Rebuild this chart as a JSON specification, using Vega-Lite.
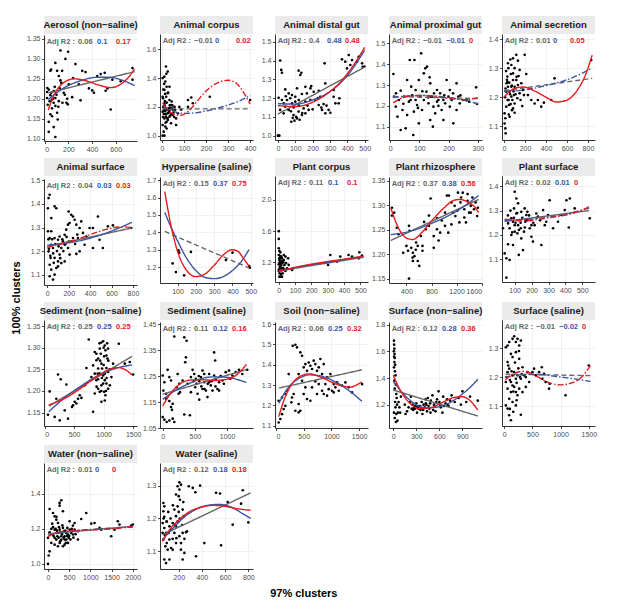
{
  "$schema": "https://vega.github.io/schema/vega-lite/v6.json",
  "padding": {"left": 11, "top": 16, "right": 4, "bottom": 4},
  "title": {"text": "97% clusters", "orient": "bottom", "anchor": "middle", "offset": 8},
  "datasets": {
    "AE": [{"x":34,"y":1.223},{"x":20,"y":1.217},{"x":133,"y":1.321},{"x":198,"y":1.318},{"x":175,"y":1.30},{"x":90,"y":1.29},{"x":54,"y":1.273},{"x":48,"y":1.27},{"x":105,"y":1.27},{"x":147,"y":1.27},{"x":119,"y":1.257},{"x":133,"y":1.246},{"x":260,"y":1.287},{"x":317,"y":1.27},{"x":345,"y":1.267},{"x":444,"y":1.257},{"x":473,"y":1.262},{"x":507,"y":1.265},{"x":572,"y":1.248},{"x":642,"y":1.244},{"x":742,"y":1.248},{"x":742,"y":1.277},{"x":374,"y":1.226},{"x":402,"y":1.221},{"x":416,"y":1.215},{"x":530,"y":1.226},{"x":515,"y":1.22},{"x":558,"y":1.173},{"x":303,"y":1.196},{"x":232,"y":1.204},{"x":190,"y":1.20},{"x":195,"y":1.186},{"x":184,"y":1.19},{"x":76,"y":1.19},{"x":90,"y":1.182},{"x":62,"y":1.176},{"x":105,"y":1.165},{"x":48,"y":1.161},{"x":110,"y":1.148},{"x":34,"y":1.142},{"x":76,"y":1.129},{"x":34,"y":1.117},{"x":90,"y":1.104},{"x":62,"y":1.156},{"x":42,"y":1.194},{"x":20,"y":1.202},{"x":48,"y":1.209},{"x":76,"y":1.219},{"x":127,"y":1.226},{"x":161,"y":1.215},{"x":204,"y":1.236},{"x":240,"y":1.252},{"x":288,"y":1.236},{"x":22,"y":1.227},{"x":62,"y":1.198},{"x":90,"y":1.202},{"x":119,"y":1.194},{"x":25,"y":1.185},{"x":55,"y":1.215},{"x":70,"y":1.2},{"x":85,"y":1.23},{"x":100,"y":1.21},{"x":115,"y":1.18},{"x":140,"y":1.24},{"x":150,"y":1.19},{"x":170,"y":1.21}],
    "AE_fit": [{"m":"linear","lt":"solid","x":30,"y":1.215},{"m":"linear","lt":"solid","x":760,"y":1.268},
      {"m":"quadratic","lt":"solid","x":30,"y":1.198},{"m":"quadratic","lt":"solid","x":150,"y":1.225},{"m":"quadratic","lt":"solid","x":300,"y":1.245},{"m":"quadratic","lt":"solid","x":450,"y":1.254},{"m":"quadratic","lt":"solid","x":550,"y":1.254},{"m":"quadratic","lt":"solid","x":650,"y":1.247},{"m":"quadratic","lt":"solid","x":760,"y":1.233},
      {"m":"cubic","lt":"solid","x":30,"y":1.172},{"m":"cubic","lt":"solid","x":80,"y":1.21},{"m":"cubic","lt":"solid","x":150,"y":1.238},{"m":"cubic","lt":"solid","x":250,"y":1.25},{"m":"cubic","lt":"solid","x":350,"y":1.245},{"m":"cubic","lt":"solid","x":450,"y":1.235},{"m":"cubic","lt":"solid","x":560,"y":1.228},{"m":"cubic","lt":"solid","x":650,"y":1.238},{"m":"cubic","lt":"solid","x":720,"y":1.258},{"m":"cubic","lt":"solid","x":760,"y":1.275}],
    "AE_r2": [{"m":"linear","r":"0.06"},{"m":"quadratic","r":"0.1"},{"m":"cubic","r":"0.17"}],

    "AC": [{"x":18,"y":1.48},{"x":26,"y":1.445},{"x":11,"y":1.41},{"x":3,"y":1.40},{"x":15,"y":1.376},{"x":21,"y":1.34},{"x":11,"y":1.318},{"x":26,"y":1.295},{"x":3,"y":1.27},{"x":34,"y":1.248},{"x":11,"y":1.225},{"x":41,"y":1.213},{"x":18,"y":1.19},{"x":49,"y":1.18},{"x":3,"y":1.167},{"x":26,"y":1.155},{"x":34,"y":1.132},{"x":11,"y":1.12},{"x":21,"y":1.097},{"x":41,"y":1.086},{"x":15,"y":1.063},{"x":8,"y":1.028},{"x":3,"y":1.0},{"x":11,"y":1.0},{"x":64,"y":1.12},{"x":72,"y":1.155},{"x":79,"y":1.2},{"x":118,"y":1.248},{"x":133,"y":1.265},{"x":118,"y":1.2},{"x":140,"y":1.225},{"x":87,"y":1.18},{"x":217,"y":1.27},{"x":400,"y":1.248},{"x":34,"y":1.34},{"x":18,"y":1.132},{"x":49,"y":1.144},{"x":31,"y":1.19},{"x":44,"y":1.237},{"x":57,"y":1.2},{"x":6,"y":1.2},{"x":64,"y":1.074},{"x":3,"y":1.074},{"x":21,"y":1.05},{"x":8,"y":1.15},{"x":14,"y":1.17},{"x":25,"y":1.12},{"x":30,"y":1.16},{"x":12,"y":1.21},{"x":22,"y":1.23},{"x":5,"y":1.26},{"x":38,"y":1.14},{"x":45,"y":1.19},{"x":28,"y":1.30},{"x":16,"y":1.09},{"x":35,"y":1.21},{"x":5,"y":1.13},{"x":9,"y":1.18},{"x":13,"y":1.24},{"x":17,"y":1.15},{"x":19,"y":1.27},{"x":24,"y":1.18},{"x":27,"y":1.11},{"x":33,"y":1.17},{"x":37,"y":1.19},{"x":42,"y":1.15},{"x":47,"y":1.21},{"x":52,"y":1.16},{"x":55,"y":1.13},{"x":60,"y":1.18},{"x":6,"y":1.32},{"x":10,"y":1.36},{"x":20,"y":1.43},{"x":14,"y":1.29}],
    "AC_fit": [{"m":"linear","lt":"dash","x":3,"y":1.186},{"m":"linear","lt":"dash","x":400,"y":1.186},
      {"m":"quadratic","lt":"dashdot","x":3,"y":1.21},{"m":"quadratic","lt":"dashdot","x":50,"y":1.17},{"m":"quadratic","lt":"dashdot","x":100,"y":1.155},{"m":"quadratic","lt":"dashdot","x":150,"y":1.158},{"m":"quadratic","lt":"dashdot","x":200,"y":1.172},{"m":"quadratic","lt":"dashdot","x":250,"y":1.19},{"m":"quadratic","lt":"dashdot","x":300,"y":1.212},{"m":"quadratic","lt":"dashdot","x":350,"y":1.24},{"m":"quadratic","lt":"dashdot","x":400,"y":1.28},
      {"m":"cubic","lt":"dashdot","x":3,"y":1.23},{"m":"cubic","lt":"dashdot","x":40,"y":1.16},{"m":"cubic","lt":"dashdot","x":80,"y":1.14},{"m":"cubic","lt":"dashdot","x":120,"y":1.17},{"m":"cubic","lt":"dashdot","x":160,"y":1.24},{"m":"cubic","lt":"dashdot","x":200,"y":1.31},{"m":"cubic","lt":"dashdot","x":250,"y":1.365},{"m":"cubic","lt":"dashdot","x":300,"y":1.385},{"m":"cubic","lt":"dashdot","x":340,"y":1.36},{"m":"cubic","lt":"dashdot","x":370,"y":1.3},{"m":"cubic","lt":"dashdot","x":400,"y":1.22}],
    "AC_r2": [{"m":"linear","r":"−0.01"},{"m":"quadratic","r":"0"},{"m":"cubic","r":"0.02"}],

    "AD": [{"x":0,"y":1.0},{"x":8,"y":1.0},{"x":4,"y":1.0},{"x":13,"y":1.40},{"x":19,"y":1.35},{"x":23,"y":1.335},{"x":119,"y":1.346},{"x":135,"y":1.335},{"x":129,"y":1.323},{"x":4,"y":1.202},{"x":23,"y":1.19},{"x":42,"y":1.246},{"x":62,"y":1.225},{"x":71,"y":1.199},{"x":81,"y":1.172},{"x":42,"y":1.154},{"x":62,"y":1.137},{"x":90,"y":1.11},{"x":110,"y":1.092},{"x":77,"y":1.074},{"x":119,"y":1.128},{"x":148,"y":1.145},{"x":158,"y":1.181},{"x":167,"y":1.225},{"x":187,"y":1.252},{"x":192,"y":1.264},{"x":206,"y":1.234},{"x":215,"y":1.19},{"x":235,"y":1.163},{"x":254,"y":1.137},{"x":273,"y":1.119},{"x":292,"y":1.137},{"x":302,"y":1.122},{"x":244,"y":1.207},{"x":273,"y":1.278},{"x":263,"y":1.168},{"x":321,"y":1.207},{"x":331,"y":1.172},{"x":350,"y":1.172},{"x":354,"y":1.199},{"x":321,"y":1.243},{"x":269,"y":1.385},{"x":369,"y":1.406},{"x":388,"y":1.394},{"x":408,"y":1.429},{"x":427,"y":1.402},{"x":456,"y":1.394},{"x":465,"y":1.42},{"x":485,"y":1.385},{"x":488,"y":1.367},{"x":398,"y":1.358},{"x":417,"y":1.376},{"x":100,"y":1.181},{"x":33,"y":1.172},{"x":138,"y":1.11},{"x":158,"y":1.119},{"x":177,"y":1.137},{"x":52,"y":1.19},{"x":81,"y":1.216},{"x":110,"y":1.252},{"x":100,"y":1.207},{"x":13,"y":1.137},{"x":33,"y":1.119},{"x":235,"y":1.239},{"x":158,"y":1.26},{"x":138,"y":1.222},{"x":187,"y":1.19},{"x":95,"y":1.08},{"x":125,"y":1.085},{"x":105,"y":1.1},{"x":85,"y":1.095},{"x":498,"y":1.368},{"x":60,"y":1.14},{"x":90,"y":1.15},{"x":120,"y":1.16},{"x":140,"y":1.12},{"x":170,"y":1.16},{"x":200,"y":1.14},{"x":230,"y":1.2},{"x":250,"y":1.15},{"x":280,"y":1.16},{"x":75,"y":1.13},{"x":120,"y":1.19},{"x":45,"y":1.21}],
    "AD_fit": [{"m":"linear","lt":"solid","x":0,"y":1.115},{"m":"linear","lt":"solid","x":500,"y":1.365},
      {"m":"quadratic","lt":"solid","x":0,"y":1.17},{"m":"quadratic","lt":"solid","x":100,"y":1.168},{"m":"quadratic","lt":"solid","x":200,"y":1.19},{"m":"quadratic","lt":"solid","x":300,"y":1.235},{"m":"quadratic","lt":"solid","x":400,"y":1.32},{"m":"quadratic","lt":"solid","x":500,"y":1.455},
      {"m":"cubic","lt":"solid","x":0,"y":1.16},{"m":"cubic","lt":"solid","x":100,"y":1.155},{"m":"cubic","lt":"solid","x":200,"y":1.178},{"m":"cubic","lt":"solid","x":300,"y":1.235},{"m":"cubic","lt":"solid","x":350,"y":1.275},{"m":"cubic","lt":"solid","x":400,"y":1.33},{"m":"cubic","lt":"solid","x":450,"y":1.395},{"m":"cubic","lt":"solid","x":500,"y":1.47}],
    "AD_r2": [{"m":"linear","r":"0.4"},{"m":"quadratic","r":"0.48"},{"m":"cubic","r":"0.48"}],

    "AP": [{"x":11,"y":1.353},{"x":19,"y":1.196},{"x":25,"y":1.148},{"x":30,"y":1.228},{"x":36,"y":1.273},{"x":42,"y":1.18},{"x":47,"y":1.244},{"x":53,"y":1.092},{"x":58,"y":1.156},{"x":64,"y":1.22},{"x":67,"y":1.42},{"x":72,"y":1.292},{"x":79,"y":1.06},{"x":81,"y":1.172},{"x":83,"y":1.42},{"x":87,"y":1.276},{"x":92,"y":1.204},{"x":98,"y":1.324},{"x":103,"y":1.244},{"x":106,"y":1.452},{"x":109,"y":1.18},{"x":115,"y":1.356},{"x":120,"y":1.38},{"x":124,"y":1.268},{"x":126,"y":1.388},{"x":131,"y":1.212},{"x":135,"y":1.337},{"x":137,"y":1.308},{"x":143,"y":1.244},{"x":146,"y":1.1},{"x":148,"y":1.196},{"x":154,"y":1.164},{"x":160,"y":1.276},{"x":165,"y":1.228},{"x":171,"y":1.26},{"x":176,"y":1.18},{"x":182,"y":1.228},{"x":188,"y":1.212},{"x":193,"y":1.324},{"x":199,"y":1.244},{"x":204,"y":1.196},{"x":210,"y":1.228},{"x":216,"y":1.116},{"x":227,"y":1.308},{"x":233,"y":1.244},{"x":238,"y":1.212},{"x":249,"y":1.228},{"x":294,"y":1.289},{"x":297,"y":1.209},{"x":58,"y":1.324},{"x":98,"y":1.116},{"x":36,"y":1.084},{"x":182,"y":1.132},{"x":137,"y":1.132},{"x":160,"y":1.22},{"x":115,"y":1.228},{"x":87,"y":1.228},{"x":204,"y":1.276},{"x":137,"y":1.244},{"x":70,"y":1.228},{"x":13,"y":1.244},{"x":227,"y":1.18},{"x":261,"y":1.228},{"x":20,"y":1.26},{"x":45,"y":1.21},{"x":75,"y":1.25},{"x":95,"y":1.19},{"x":110,"y":1.27},{"x":130,"y":1.24},{"x":150,"y":1.26},{"x":165,"y":1.2},{"x":185,"y":1.25},{"x":215,"y":1.26},{"x":240,"y":1.25},{"x":270,"y":1.22}],
    "AP_fit": [{"m":"linear","lt":"dash","x":10,"y":1.245},{"m":"linear","lt":"dash","x":300,"y":1.235},
      {"m":"quadratic","lt":"dashdot","x":10,"y":1.24},{"m":"quadratic","lt":"dashdot","x":100,"y":1.25},{"m":"quadratic","lt":"dashdot","x":200,"y":1.24},{"m":"quadratic","lt":"dashdot","x":300,"y":1.21},
      {"m":"cubic","lt":"dashdot","x":10,"y":1.215},{"m":"cubic","lt":"dashdot","x":60,"y":1.245},{"m":"cubic","lt":"dashdot","x":120,"y":1.25},{"m":"cubic","lt":"dashdot","x":200,"y":1.235},{"m":"cubic","lt":"dashdot","x":260,"y":1.23},{"m":"cubic","lt":"dashdot","x":300,"y":1.24}],
    "AP_r2": [{"m":"linear","r":"−0.01"},{"m":"quadratic","r":"−0.01"},{"m":"cubic","r":"0"}],

    "AS": [{"x":22,"y":1.167},{"x":6,"y":1.144},{"x":13,"y":1.127},{"x":6,"y":1.109},{"x":13,"y":1.092},{"x":16,"y":1.075},{"x":32,"y":1.253},{"x":38,"y":1.236},{"x":54,"y":1.219},{"x":70,"y":1.202},{"x":44,"y":1.19},{"x":63,"y":1.176},{"x":86,"y":1.161},{"x":101,"y":1.146},{"x":54,"y":1.132},{"x":86,"y":1.334},{"x":117,"y":1.346},{"x":133,"y":1.326},{"x":70,"y":1.311},{"x":101,"y":1.3},{"x":38,"y":1.317},{"x":149,"y":1.294},{"x":86,"y":1.282},{"x":139,"y":1.273},{"x":117,"y":1.259},{"x":165,"y":1.248},{"x":101,"y":1.236},{"x":197,"y":1.346},{"x":212,"y":1.28},{"x":181,"y":1.225},{"x":149,"y":1.213},{"x":228,"y":1.207},{"x":260,"y":1.19},{"x":292,"y":1.178},{"x":323,"y":1.19},{"x":355,"y":1.167},{"x":380,"y":1.181},{"x":482,"y":1.265},{"x":450,"y":1.19},{"x":831,"y":1.328},{"x":70,"y":1.236},{"x":95,"y":1.207},{"x":127,"y":1.196},{"x":32,"y":1.271},{"x":101,"y":1.178},{"x":76,"y":1.155},{"x":48,"y":1.173},{"x":158,"y":1.19},{"x":174,"y":1.169},{"x":190,"y":1.207},{"x":22,"y":1.219},{"x":25,"y":1.248},{"x":86,"y":1.259},{"x":133,"y":1.242},{"x":10,"y":1.20},{"x":15,"y":1.23},{"x":20,"y":1.29},{"x":28,"y":1.26},{"x":35,"y":1.19},{"x":42,"y":1.3},{"x":50,"y":1.25},{"x":58,"y":1.21},{"x":65,"y":1.28},{"x":75,"y":1.24},{"x":80,"y":1.19},{"x":90,"y":1.22},{"x":110,"y":1.21},{"x":120,"y":1.27},{"x":60,"y":1.33},{"x":45,"y":1.14}],
    "AS_fit": [{"m":"linear","lt":"dash","x":0,"y":1.222},{"m":"linear","lt":"dash","x":840,"y":1.265},
      {"m":"quadratic","lt":"dashdot","x":0,"y":1.22},{"m":"quadratic","lt":"dashdot","x":200,"y":1.225},{"m":"quadratic","lt":"dashdot","x":400,"y":1.24},{"m":"quadratic","lt":"dashdot","x":600,"y":1.26},{"m":"quadratic","lt":"dashdot","x":840,"y":1.30},
      {"m":"cubic","lt":"solid","x":0,"y":1.20},{"m":"cubic","lt":"solid","x":100,"y":1.23},{"m":"cubic","lt":"solid","x":180,"y":1.235},{"m":"cubic","lt":"solid","x":300,"y":1.22},{"m":"cubic","lt":"solid","x":400,"y":1.2},{"m":"cubic","lt":"solid","x":500,"y":1.183},{"m":"cubic","lt":"solid","x":600,"y":1.19},{"m":"cubic","lt":"solid","x":700,"y":1.225},{"m":"cubic","lt":"solid","x":780,"y":1.28},{"m":"cubic","lt":"solid","x":840,"y":1.345}],
    "AS_r2": [{"m":"linear","r":"0.01"},{"m":"quadratic","r":"0"},{"m":"cubic","r":"0.05"}],

    "AF": [{"x":22,"y":1.439},{"x":12,"y":1.425},{"x":6,"y":1.382},{"x":37,"y":1.34},{"x":68,"y":1.39},{"x":84,"y":1.382},{"x":6,"y":1.284},{"x":22,"y":1.255},{"x":37,"y":1.227},{"x":12,"y":1.199},{"x":31,"y":1.171},{"x":22,"y":1.142},{"x":37,"y":1.121},{"x":22,"y":1.093},{"x":53,"y":1.079},{"x":68,"y":1.1},{"x":84,"y":1.128},{"x":100,"y":1.156},{"x":115,"y":1.185},{"x":131,"y":1.213},{"x":146,"y":1.241},{"x":162,"y":1.269},{"x":177,"y":1.291},{"x":193,"y":1.312},{"x":199,"y":1.368},{"x":224,"y":1.354},{"x":240,"y":1.347},{"x":208,"y":1.319},{"x":255,"y":1.333},{"x":271,"y":1.312},{"x":302,"y":1.298},{"x":317,"y":1.326},{"x":333,"y":1.277},{"x":364,"y":1.262},{"x":395,"y":1.298},{"x":426,"y":1.298},{"x":473,"y":1.347},{"x":488,"y":1.248},{"x":519,"y":1.213},{"x":426,"y":1.213},{"x":348,"y":1.227},{"x":302,"y":1.199},{"x":271,"y":1.188},{"x":208,"y":1.185},{"x":162,"y":1.156},{"x":131,"y":1.149},{"x":100,"y":1.135},{"x":68,"y":1.171},{"x":53,"y":1.213},{"x":68,"y":1.255},{"x":115,"y":1.262},{"x":162,"y":1.227},{"x":224,"y":1.241},{"x":286,"y":1.255},{"x":193,"y":1.213},{"x":240,"y":1.255},{"x":566,"y":1.305},{"x":784,"y":1.298},{"x":613,"y":1.309},{"x":100,"y":1.248},{"x":37,"y":1.284},{"x":10,"y":1.25},{"x":15,"y":1.21},{"x":28,"y":1.18},{"x":45,"y":1.25},{"x":55,"y":1.19},{"x":60,"y":1.15},{"x":75,"y":1.23},{"x":90,"y":1.2},{"x":105,"y":1.22},{"x":120,"y":1.17},{"x":140,"y":1.25},{"x":150,"y":1.2},{"x":170,"y":1.23},{"x":180,"y":1.26},{"x":200,"y":1.24},{"x":260,"y":1.23},{"x":280,"y":1.27}],
    "AF_fit": [{"m":"linear","lt":"solid","x":0,"y":1.22},{"m":"linear","lt":"solid","x":790,"y":1.298},
      {"m":"quadratic","lt":"solid","x":0,"y":1.225},{"m":"quadratic","lt":"solid","x":200,"y":1.235},{"m":"quadratic","lt":"solid","x":400,"y":1.255},{"m":"quadratic","lt":"solid","x":600,"y":1.285},{"m":"quadratic","lt":"solid","x":790,"y":1.322},
      {"m":"cubic","lt":"dashdot","x":0,"y":1.215},{"m":"cubic","lt":"dashdot","x":100,"y":1.228},{"m":"cubic","lt":"dashdot","x":250,"y":1.245},{"m":"cubic","lt":"dashdot","x":400,"y":1.27},{"m":"cubic","lt":"dashdot","x":550,"y":1.292},{"m":"cubic","lt":"dashdot","x":700,"y":1.303},{"m":"cubic","lt":"dashdot","x":790,"y":1.30}],
    "AF_r2": [{"m":"linear","r":"0.04"},{"m":"quadratic","r":"0.03"},{"m":"cubic","r":"0.03"}],

    "HS": [{"x":73,"y":1.221},{"x":91,"y":1.171},{"x":105,"y":1.296},{"x":109,"y":1.283},{"x":136,"y":1.152},{"x":173,"y":1.287},{"x":364,"y":1.24},{"x":400,"y":1.283},{"x":491,"y":1.206},{"x":495,"y":1.196}],
    "HS_fit": [{"m":"linear","lt":"dash","x":30,"y":1.405},{"m":"linear","lt":"dash","x":490,"y":1.195},
      {"m":"quadratic","lt":"solid","x":30,"y":1.515},{"m":"quadratic","lt":"solid","x":60,"y":1.44},{"m":"quadratic","lt":"solid","x":100,"y":1.35},{"m":"quadratic","lt":"solid","x":150,"y":1.25},{"m":"quadratic","lt":"solid","x":200,"y":1.18},{"m":"quadratic","lt":"solid","x":250,"y":1.14},{"m":"quadratic","lt":"solid","x":300,"y":1.133},{"m":"quadratic","lt":"solid","x":350,"y":1.145},{"m":"quadratic","lt":"solid","x":400,"y":1.18},{"m":"quadratic","lt":"solid","x":450,"y":1.235},{"m":"quadratic","lt":"solid","x":490,"y":1.30},
      {"m":"cubic","lt":"solid","x":30,"y":1.635},{"m":"cubic","lt":"solid","x":60,"y":1.46},{"m":"cubic","lt":"solid","x":100,"y":1.29},{"m":"cubic","lt":"solid","x":150,"y":1.18},{"m":"cubic","lt":"solid","x":200,"y":1.145},{"m":"cubic","lt":"solid","x":250,"y":1.16},{"m":"cubic","lt":"solid","x":300,"y":1.21},{"m":"cubic","lt":"solid","x":350,"y":1.27},{"m":"cubic","lt":"solid","x":400,"y":1.30},{"m":"cubic","lt":"solid","x":430,"y":1.29},{"m":"cubic","lt":"solid","x":460,"y":1.25},{"m":"cubic","lt":"solid","x":490,"y":1.205}],
    "HS_r2": [{"m":"linear","r":"0.15"},{"m":"quadratic","r":"0.37"},{"m":"cubic","r":"0.75"}],

    "PC": [{"x":0,"y":1.60},{"x":0,"y":1.50},{"x":4,"y":1.346},{"x":10,"y":1.328},{"x":0,"y":1.294},{"x":16,"y":1.273},{"x":31,"y":1.294},{"x":41,"y":1.273},{"x":4,"y":1.23},{"x":10,"y":1.209},{"x":20,"y":1.187},{"x":0,"y":1.174},{"x":8,"y":1.144},{"x":16,"y":1.123},{"x":0,"y":1.089},{"x":4,"y":1.016},{"x":12,"y":1.016},{"x":20,"y":1.016},{"x":24,"y":1.059},{"x":41,"y":1.089},{"x":51,"y":1.123},{"x":61,"y":1.166},{"x":57,"y":1.251},{"x":82,"y":1.102},{"x":86,"y":1.123},{"x":302,"y":1.166},{"x":316,"y":1.294},{"x":357,"y":1.209},{"x":377,"y":1.273},{"x":428,"y":1.294},{"x":449,"y":1.273},{"x":490,"y":1.251},{"x":494,"y":1.328},{"x":510,"y":1.286},{"x":10,"y":1.187},{"x":31,"y":1.23},{"x":35,"y":1.166},{"x":20,"y":1.251},{"x":0,"y":1.38},{"x":8,"y":1.251},{"x":2,"y":1.11},{"x":6,"y":1.2},{"x":3,"y":1.25},{"x":14,"y":1.16},{"x":18,"y":1.1},{"x":26,"y":1.13},{"x":28,"y":1.2},{"x":5,"y":1.06},{"x":9,"y":1.28},{"x":22,"y":1.22},{"x":33,"y":1.11},{"x":45,"y":1.19},{"x":14,"y":1.05},{"x":7,"y":1.14}],
    "PC_fit": [{"m":"linear","lt":"solid","x":0,"y":1.09},{"m":"linear","lt":"solid","x":520,"y":1.265},
      {"m":"quadratic","lt":"solid","x":0,"y":1.08},{"m":"quadratic","lt":"solid","x":100,"y":1.13},{"m":"quadratic","lt":"solid","x":200,"y":1.17},{"m":"quadratic","lt":"solid","x":300,"y":1.20},{"m":"quadratic","lt":"solid","x":400,"y":1.235},{"m":"quadratic","lt":"solid","x":520,"y":1.275},
      {"m":"cubic","lt":"solid","x":0,"y":1.085},{"m":"cubic","lt":"solid","x":20,"y":1.095},{"m":"cubic","lt":"solid","x":60,"y":1.115},{"m":"cubic","lt":"solid","x":100,"y":1.135},{"m":"cubic","lt":"solid","x":200,"y":1.175},{"m":"cubic","lt":"solid","x":300,"y":1.21},{"m":"cubic","lt":"solid","x":400,"y":1.24},{"m":"cubic","lt":"solid","x":520,"y":1.28}],
    "PC_r2": [{"m":"linear","r":"0.11"},{"m":"quadratic","r":"0.1"},{"m":"cubic","r":"0.1"}],

    "PR": [{"x":169,"y":1.295},{"x":205,"y":1.285},{"x":246,"y":1.254},{"x":169,"y":1.279},{"x":441,"y":1.258},{"x":451,"y":1.248},{"x":400,"y":1.217},{"x":441,"y":1.15},{"x":477,"y":1.213},{"x":503,"y":1.203},{"x":528,"y":1.196},{"x":554,"y":1.224},{"x":580,"y":1.186},{"x":605,"y":1.176},{"x":426,"y":1.207},{"x":498,"y":1.193},{"x":549,"y":1.209},{"x":656,"y":1.217},{"x":631,"y":1.237},{"x":708,"y":1.251},{"x":682,"y":1.266},{"x":759,"y":1.258},{"x":785,"y":1.314},{"x":836,"y":1.237},{"x":887,"y":1.274},{"x":913,"y":1.228},{"x":938,"y":1.244},{"x":964,"y":1.269},{"x":1015,"y":1.285},{"x":1046,"y":1.32},{"x":1077,"y":1.32},{"x":1118,"y":1.306},{"x":1144,"y":1.285},{"x":1169,"y":1.299},{"x":1180,"y":1.278},{"x":1211,"y":1.289},{"x":1221,"y":1.326},{"x":1262,"y":1.306},{"x":1272,"y":1.316},{"x":1298,"y":1.326},{"x":1323,"y":1.292},{"x":1349,"y":1.265},{"x":1375,"y":1.309},{"x":1400,"y":1.285},{"x":1426,"y":1.299},{"x":1452,"y":1.316},{"x":1477,"y":1.292},{"x":1503,"y":1.306},{"x":1528,"y":1.278},{"x":1539,"y":1.295},{"x":1375,"y":1.323},{"x":1067,"y":1.244},{"x":1015,"y":1.258},{"x":759,"y":1.279},{"x":656,"y":1.207},{"x":580,"y":1.217},{"x":503,"y":1.186},{"x":349,"y":1.203},{"x":272,"y":1.241},{"x":836,"y":1.213},{"x":887,"y":1.251},{"x":1118,"y":1.261},{"x":1323,"y":1.275},{"x":1244,"y":1.265},{"x":1426,"y":1.285}],
    "PR_fit": [{"m":"linear","lt":"solid","x":150,"y":1.228},{"m":"linear","lt":"solid","x":1550,"y":1.312},
      {"m":"quadratic","lt":"solid","x":150,"y":1.24},{"m":"quadratic","lt":"solid","x":400,"y":1.245},{"m":"quadratic","lt":"solid","x":800,"y":1.263},{"m":"quadratic","lt":"solid","x":1200,"y":1.288},{"m":"quadratic","lt":"solid","x":1550,"y":1.32},
      {"m":"cubic","lt":"solid","x":150,"y":1.295},{"m":"cubic","lt":"solid","x":250,"y":1.26},{"m":"cubic","lt":"solid","x":400,"y":1.233},{"m":"cubic","lt":"solid","x":500,"y":1.23},{"m":"cubic","lt":"solid","x":650,"y":1.245},{"m":"cubic","lt":"solid","x":800,"y":1.268},{"m":"cubic","lt":"solid","x":1000,"y":1.295},{"m":"cubic","lt":"solid","x":1150,"y":1.31},{"m":"cubic","lt":"solid","x":1250,"y":1.312},{"m":"cubic","lt":"solid","x":1400,"y":1.305},{"m":"cubic","lt":"solid","x":1500,"y":1.295},{"m":"cubic","lt":"solid","x":1550,"y":1.285}],
    "PR_r2": [{"m":"linear","r":"0.37"},{"m":"quadratic","r":"0.38"},{"m":"cubic","r":"0.56"}],

    "PS": [{"x":51,"y":1.023},{"x":41,"y":1.123},{"x":51,"y":1.103},{"x":61,"y":1.161},{"x":70,"y":1.096},{"x":80,"y":1.199},{"x":90,"y":1.158},{"x":100,"y":1.378},{"x":110,"y":1.35},{"x":120,"y":1.33},{"x":96,"y":1.309},{"x":124,"y":1.117},{"x":139,"y":1.185},{"x":149,"y":1.137},{"x":155,"y":1.213},{"x":163,"y":1.254},{"x":175,"y":1.295},{"x":189,"y":1.227},{"x":199,"y":1.192},{"x":208,"y":1.172},{"x":218,"y":1.24},{"x":238,"y":1.275},{"x":258,"y":1.158},{"x":268,"y":1.302},{"x":287,"y":1.254},{"x":307,"y":1.343},{"x":327,"y":1.227},{"x":356,"y":1.254},{"x":406,"y":1.343},{"x":426,"y":1.35},{"x":420,"y":1.23},{"x":455,"y":1.309},{"x":544,"y":1.268},{"x":80,"y":1.268},{"x":110,"y":1.288},{"x":129,"y":1.261},{"x":70,"y":1.227},{"x":100,"y":1.213},{"x":120,"y":1.24},{"x":139,"y":1.295},{"x":159,"y":1.309},{"x":179,"y":1.261},{"x":199,"y":1.24},{"x":61,"y":1.247},{"x":90,"y":1.254},{"x":116,"y":1.206},{"x":136,"y":1.227},{"x":31,"y":1.227},{"x":100,"y":1.24},{"x":169,"y":1.282},{"x":228,"y":1.288},{"x":278,"y":1.24},{"x":297,"y":1.282},{"x":376,"y":1.282},{"x":396,"y":1.302},{"x":60,"y":1.28},{"x":75,"y":1.3},{"x":85,"y":1.21},{"x":95,"y":1.27},{"x":105,"y":1.25},{"x":115,"y":1.29},{"x":125,"y":1.22},{"x":135,"y":1.25},{"x":145,"y":1.27},{"x":160,"y":1.23},{"x":170,"y":1.26},{"x":185,"y":1.28},{"x":195,"y":1.26},{"x":210,"y":1.25},{"x":230,"y":1.27},{"x":250,"y":1.26}],
    "PS_fit": [{"m":"linear","lt":"solid","x":40,"y":1.255},{"m":"linear","lt":"solid","x":540,"y":1.30},
      {"m":"quadratic","lt":"dashdot","x":40,"y":1.26},{"m":"quadratic","lt":"dashdot","x":200,"y":1.265},{"m":"quadratic","lt":"dashdot","x":400,"y":1.285},{"m":"quadratic","lt":"dashdot","x":540,"y":1.31},
      {"m":"cubic","lt":"dashdot","x":40,"y":1.265},{"m":"cubic","lt":"dashdot","x":150,"y":1.258},{"m":"cubic","lt":"dashdot","x":300,"y":1.27},{"m":"cubic","lt":"dashdot","x":450,"y":1.29},{"m":"cubic","lt":"dashdot","x":540,"y":1.315}],
    "PS_r2": [{"m":"linear","r":"0.02"},{"m":"quadratic","r":"0.01"},{"m":"cubic","r":"0"}],

    "SN": [{"x":57,"y":1.145},{"x":85,"y":1.199},{"x":198,"y":1.182},{"x":226,"y":1.238},{"x":272,"y":1.227},{"x":170,"y":1.14},{"x":255,"y":1.132},{"x":340,"y":1.155},{"x":396,"y":1.136},{"x":368,"y":1.215},{"x":509,"y":1.175},{"x":481,"y":1.167},{"x":464,"y":1.163},{"x":566,"y":1.182},{"x":538,"y":1.171},{"x":594,"y":1.19},{"x":623,"y":1.184},{"x":679,"y":1.213},{"x":708,"y":1.253},{"x":747,"y":1.319},{"x":792,"y":1.232},{"x":821,"y":1.152},{"x":849,"y":1.29},{"x":877,"y":1.286},{"x":906,"y":1.275},{"x":934,"y":1.298},{"x":962,"y":1.312},{"x":991,"y":1.315},{"x":1008,"y":1.28},{"x":1019,"y":1.305},{"x":1030,"y":1.294},{"x":1047,"y":1.282},{"x":962,"y":1.263},{"x":906,"y":1.252},{"x":934,"y":1.24},{"x":991,"y":1.236},{"x":1019,"y":1.225},{"x":1047,"y":1.217},{"x":1075,"y":1.205},{"x":1104,"y":1.213},{"x":877,"y":1.225},{"x":962,"y":1.213},{"x":1008,"y":1.198},{"x":1030,"y":1.19},{"x":906,"y":1.205},{"x":821,"y":1.259},{"x":1075,"y":1.244},{"x":1132,"y":1.232},{"x":1257,"y":1.309},{"x":1358,"y":1.263},{"x":1443,"y":1.267},{"x":1500,"y":1.238},{"x":849,"y":1.24},{"x":906,"y":1.227},{"x":973,"y":1.252},{"x":1047,"y":1.253},{"x":951,"y":1.286},{"x":877,"y":1.271},{"x":1075,"y":1.298},{"x":1064,"y":1.275},{"x":1160,"y":1.263},{"x":991,"y":1.217},{"x":934,"y":1.198},{"x":849,"y":1.194},{"x":1019,"y":1.178},{"x":962,"y":1.175},{"x":900,"y":1.24},{"x":940,"y":1.27},{"x":970,"y":1.23},{"x":1000,"y":1.26},{"x":1020,"y":1.24},{"x":1050,"y":1.23},{"x":1080,"y":1.27},{"x":1100,"y":1.25},{"x":880,"y":1.21},{"x":960,"y":1.2},{"x":1040,"y":1.2},{"x":1000,"y":1.3},{"x":930,"y":1.31},{"x":1060,"y":1.31}],
    "SN_fit": [{"m":"linear","lt":"solid","x":70,"y":1.165},{"m":"linear","lt":"solid","x":1480,"y":1.28},
      {"m":"quadratic","lt":"solid","x":70,"y":1.152},{"m":"quadratic","lt":"solid","x":300,"y":1.18},{"m":"quadratic","lt":"solid","x":600,"y":1.21},{"m":"quadratic","lt":"solid","x":900,"y":1.235},{"m":"quadratic","lt":"solid","x":1200,"y":1.252},{"m":"quadratic","lt":"solid","x":1480,"y":1.26},
      {"m":"cubic","lt":"solid","x":70,"y":1.168},{"m":"cubic","lt":"solid","x":300,"y":1.18},{"m":"cubic","lt":"solid","x":600,"y":1.205},{"m":"cubic","lt":"solid","x":900,"y":1.235},{"m":"cubic","lt":"solid","x":1100,"y":1.25},{"m":"cubic","lt":"solid","x":1250,"y":1.254},{"m":"cubic","lt":"solid","x":1380,"y":1.248},{"m":"cubic","lt":"solid","x":1480,"y":1.237}],
    "SN_r2": [{"m":"linear","r":"0.25"},{"m":"quadratic","r":"0.25"},{"m":"cubic","r":"0.25"}],

    "SS": [{"x":0,"y":1.252},{"x":26,"y":1.226},{"x":10,"y":1.194},{"x":52,"y":1.182},{"x":77,"y":1.274},{"x":103,"y":1.246},{"x":129,"y":1.233},{"x":52,"y":1.163},{"x":103,"y":1.154},{"x":155,"y":1.143},{"x":129,"y":1.131},{"x":144,"y":1.12},{"x":0,"y":1.092},{"x":26,"y":1.082},{"x":62,"y":1.073},{"x":103,"y":1.079},{"x":155,"y":1.086},{"x":180,"y":1.073},{"x":180,"y":1.402},{"x":216,"y":1.207},{"x":247,"y":1.182},{"x":232,"y":1.258},{"x":258,"y":1.22},{"x":335,"y":1.399},{"x":371,"y":1.386},{"x":361,"y":1.322},{"x":350,"y":1.303},{"x":335,"y":1.102},{"x":422,"y":1.099},{"x":386,"y":1.22},{"x":438,"y":1.188},{"x":464,"y":1.274},{"x":489,"y":1.258},{"x":515,"y":1.239},{"x":525,"y":1.22},{"x":541,"y":1.182},{"x":567,"y":1.159},{"x":592,"y":1.246},{"x":618,"y":1.271},{"x":644,"y":1.226},{"x":670,"y":1.194},{"x":695,"y":1.169},{"x":721,"y":1.258},{"x":747,"y":1.214},{"x":773,"y":1.194},{"x":798,"y":1.341},{"x":814,"y":1.31},{"x":824,"y":1.239},{"x":850,"y":1.2},{"x":876,"y":1.194},{"x":927,"y":1.233},{"x":978,"y":1.265},{"x":1030,"y":1.271},{"x":1081,"y":1.252},{"x":1133,"y":1.265},{"x":1184,"y":1.274},{"x":1236,"y":1.258},{"x":1313,"y":1.274},{"x":644,"y":1.258},{"x":567,"y":1.23},{"x":721,"y":1.226},{"x":798,"y":1.252},{"x":618,"y":1.2},{"x":505,"y":1.207},{"x":438,"y":1.246},{"x":309,"y":1.233},{"x":268,"y":1.188},{"x":876,"y":1.226},{"x":600,"y":1.21},{"x":700,"y":1.22},{"x":760,"y":1.23},{"x":820,"y":1.21},{"x":900,"y":1.25},{"x":950,"y":1.22},{"x":1050,"y":1.24},{"x":560,"y":1.25},{"x":480,"y":1.23},{"x":650,"y":1.2}],
    "SS_fit": [{"m":"linear","lt":"solid","x":0,"y":1.18},{"m":"linear","lt":"solid","x":1300,"y":1.275},
      {"m":"quadratic","lt":"solid","x":0,"y":1.16},{"m":"quadratic","lt":"solid","x":200,"y":1.195},{"m":"quadratic","lt":"solid","x":400,"y":1.22},{"m":"quadratic","lt":"solid","x":600,"y":1.24},{"m":"quadratic","lt":"solid","x":800,"y":1.247},{"m":"quadratic","lt":"solid","x":1000,"y":1.245},{"m":"quadratic","lt":"solid","x":1150,"y":1.237},{"m":"quadratic","lt":"solid","x":1300,"y":1.225},
      {"m":"cubic","lt":"solid","x":0,"y":1.135},{"m":"cubic","lt":"solid","x":100,"y":1.175},{"m":"cubic","lt":"solid","x":200,"y":1.205},{"m":"cubic","lt":"solid","x":300,"y":1.225},{"m":"cubic","lt":"solid","x":450,"y":1.235},{"m":"cubic","lt":"solid","x":600,"y":1.236},{"m":"cubic","lt":"solid","x":800,"y":1.233},{"m":"cubic","lt":"solid","x":1000,"y":1.238},{"m":"cubic","lt":"solid","x":1150,"y":1.255},{"m":"cubic","lt":"solid","x":1300,"y":1.295}],
    "SS_r2": [{"m":"linear","r":"0.11"},{"m":"quadratic","r":"0.12"},{"m":"cubic","r":"0.16"}],

    "SO": [{"x":48,"y":1.116},{"x":78,"y":1.133},{"x":108,"y":1.157},{"x":48,"y":1.223},{"x":138,"y":1.182},{"x":169,"y":1.198},{"x":199,"y":1.272},{"x":229,"y":1.354},{"x":289,"y":1.239},{"x":319,"y":1.256},{"x":277,"y":1.215},{"x":301,"y":1.493},{"x":349,"y":1.498},{"x":379,"y":1.485},{"x":349,"y":1.174},{"x":409,"y":1.166},{"x":439,"y":1.174},{"x":409,"y":1.354},{"x":439,"y":1.461},{"x":470,"y":1.444},{"x":500,"y":1.387},{"x":530,"y":1.403},{"x":560,"y":1.37},{"x":590,"y":1.411},{"x":620,"y":1.395},{"x":650,"y":1.379},{"x":680,"y":1.42},{"x":710,"y":1.403},{"x":740,"y":1.37},{"x":771,"y":1.387},{"x":801,"y":1.428},{"x":831,"y":1.354},{"x":861,"y":1.403},{"x":891,"y":1.305},{"x":921,"y":1.338},{"x":951,"y":1.28},{"x":981,"y":1.354},{"x":1011,"y":1.272},{"x":1041,"y":1.305},{"x":1071,"y":1.289},{"x":1102,"y":1.313},{"x":1132,"y":1.272},{"x":1192,"y":1.297},{"x":1252,"y":1.313},{"x":1312,"y":1.289},{"x":1372,"y":1.264},{"x":1553,"y":1.305},{"x":560,"y":1.231},{"x":620,"y":1.223},{"x":500,"y":1.256},{"x":650,"y":1.289},{"x":710,"y":1.318},{"x":771,"y":1.305},{"x":831,"y":1.272},{"x":470,"y":1.321},{"x":530,"y":1.289},{"x":740,"y":1.256},{"x":861,"y":1.256},{"x":921,"y":1.248},{"x":1041,"y":1.264},{"x":108,"y":1.239},{"x":169,"y":1.256},{"x":409,"y":1.207}],
    "SO_fit": [{"m":"linear","lt":"solid","x":50,"y":1.285},{"m":"linear","lt":"solid","x":1550,"y":1.375},
      {"m":"quadratic","lt":"solid","x":50,"y":1.21},{"m":"quadratic","lt":"solid","x":200,"y":1.28},{"m":"quadratic","lt":"solid","x":400,"y":1.33},{"m":"quadratic","lt":"solid","x":600,"y":1.35},{"m":"quadratic","lt":"solid","x":800,"y":1.345},{"m":"quadratic","lt":"solid","x":1000,"y":1.325},{"m":"quadratic","lt":"solid","x":1200,"y":1.295},{"m":"quadratic","lt":"solid","x":1400,"y":1.255},{"m":"quadratic","lt":"solid","x":1550,"y":1.22},
      {"m":"cubic","lt":"solid","x":50,"y":1.145},{"m":"cubic","lt":"solid","x":150,"y":1.23},{"m":"cubic","lt":"solid","x":300,"y":1.31},{"m":"cubic","lt":"solid","x":450,"y":1.345},{"m":"cubic","lt":"solid","x":600,"y":1.355},{"m":"cubic","lt":"solid","x":800,"y":1.34},{"m":"cubic","lt":"solid","x":1000,"y":1.315},{"m":"cubic","lt":"solid","x":1200,"y":1.295},{"m":"cubic","lt":"solid","x":1350,"y":1.29},{"m":"cubic","lt":"solid","x":1450,"y":1.3},{"m":"cubic","lt":"solid","x":1550,"y":1.315}],
    "SO_r2": [{"m":"linear","r":"0.06"},{"m":"quadratic","r":"0.25"},{"m":"cubic","r":"0.32"}],

    "UN": [{"x":10,"y":1.68},{"x":12,"y":1.65},{"x":15,"y":1.62},{"x":8,"y":1.60},{"x":18,"y":1.58},{"x":12,"y":1.56},{"x":20,"y":1.55},{"x":15,"y":1.52},{"x":25,"y":1.50},{"x":10,"y":1.48},{"x":22,"y":1.45},{"x":30,"y":1.42},{"x":15,"y":1.38},{"x":35,"y":1.35},{"x":20,"y":1.32},{"x":40,"y":1.28},{"x":45,"y":1.25},{"x":25,"y":1.22},{"x":50,"y":1.20},{"x":30,"y":1.18},{"x":10,"y":1.14},{"x":40,"y":1.13},{"x":60,"y":1.14},{"x":20,"y":1.10},{"x":35,"y":1.07},{"x":55,"y":1.08},{"x":70,"y":1.22},{"x":80,"y":1.18},{"x":90,"y":1.14},{"x":100,"y":1.26},{"x":150,"y":1.20},{"x":180,"y":1.15},{"x":200,"y":1.18},{"x":220,"y":1.22},{"x":240,"y":1.17},{"x":260,"y":1.16},{"x":280,"y":1.19},{"x":300,"y":1.21},{"x":310,"y":1.14},{"x":330,"y":1.17},{"x":350,"y":1.19},{"x":370,"y":1.22},{"x":390,"y":1.16},{"x":410,"y":1.18},{"x":430,"y":1.20},{"x":450,"y":1.25},{"x":470,"y":1.17},{"x":490,"y":1.23},{"x":510,"y":1.27},{"x":530,"y":1.20},{"x":550,"y":1.15},{"x":570,"y":1.24},{"x":590,"y":1.30},{"x":600,"y":1.22},{"x":620,"y":1.18},{"x":650,"y":1.26},{"x":680,"y":1.21},{"x":700,"y":1.24},{"x":720,"y":1.19},{"x":760,"y":1.27},{"x":800,"y":1.22},{"x":850,"y":1.25},{"x":900,"y":1.30},{"x":950,"y":1.22},{"x":1000,"y":1.26},{"x":1100,"y":1.23},{"x":160,"y":1.13},{"x":230,"y":1.26},{"x":380,"y":1.13},{"x":420,"y":1.24},{"x":520,"y":1.16},{"x":640,"y":1.14},{"x":740,"y":1.23},{"x":880,"y":1.20},{"x":270,"y":1.175},{"x":320,"y":1.18},{"x":360,"y":1.17},{"x":285,"y":1.17},{"x":300,"y":1.185},{"x":335,"y":1.19},{"x":355,"y":1.16},{"x":425,"y":1.21},{"x":460,"y":1.19},{"x":480,"y":1.21},{"x":540,"y":1.19},{"x":560,"y":1.22},{"x":610,"y":1.2},{"x":660,"y":1.19},{"x":705,"y":1.2},{"x":250,"y":1.2},{"x":395,"y":1.2},{"x":440,"y":1.15},{"x":485,"y":1.14}],
    "UN_fit": [{"m":"linear","lt":"solid","x":0,"y":1.31},{"m":"linear","lt":"solid","x":1100,"y":1.115},
      {"m":"quadratic","lt":"solid","x":0,"y":1.375},{"m":"quadratic","lt":"solid","x":150,"y":1.27},{"m":"quadratic","lt":"solid","x":300,"y":1.2},{"m":"quadratic","lt":"solid","x":450,"y":1.175},{"m":"quadratic","lt":"solid","x":600,"y":1.185},{"m":"quadratic","lt":"solid","x":750,"y":1.22},{"m":"quadratic","lt":"solid","x":900,"y":1.28},{"m":"quadratic","lt":"solid","x":1000,"y":1.33},{"m":"quadratic","lt":"solid","x":1100,"y":1.39},
      {"m":"cubic","lt":"solid","x":0,"y":1.42},{"m":"cubic","lt":"solid","x":100,"y":1.3},{"m":"cubic","lt":"solid","x":200,"y":1.22},{"m":"cubic","lt":"solid","x":350,"y":1.17},{"m":"cubic","lt":"solid","x":500,"y":1.18},{"m":"cubic","lt":"solid","x":650,"y":1.22},{"m":"cubic","lt":"solid","x":800,"y":1.255},{"m":"cubic","lt":"solid","x":900,"y":1.26},{"m":"cubic","lt":"solid","x":1000,"y":1.23},{"m":"cubic","lt":"solid","x":1100,"y":1.16}],
    "UN_r2": [{"m":"linear","r":"0.12"},{"m":"quadratic","r":"0.28"},{"m":"cubic","r":"0.36"}],

    "US": [{"x":29,"y":1.303},{"x":59,"y":1.309},{"x":88,"y":1.321},{"x":147,"y":1.332},{"x":176,"y":1.341},{"x":206,"y":1.321},{"x":235,"y":1.332},{"x":265,"y":1.309},{"x":294,"y":1.326},{"x":118,"y":1.28},{"x":147,"y":1.269},{"x":206,"y":1.286},{"x":265,"y":1.263},{"x":59,"y":1.252},{"x":88,"y":1.229},{"x":176,"y":1.217},{"x":235,"y":1.206},{"x":324,"y":1.234},{"x":29,"y":1.183},{"x":59,"y":1.16},{"x":118,"y":1.148},{"x":147,"y":1.171},{"x":206,"y":1.148},{"x":265,"y":1.16},{"x":324,"y":1.148},{"x":382,"y":1.166},{"x":88,"y":1.125},{"x":147,"y":1.114},{"x":206,"y":1.102},{"x":29,"y":1.102},{"x":59,"y":1.091},{"x":88,"y":1.068},{"x":118,"y":1.051},{"x":294,"y":1.07},{"x":441,"y":1.183},{"x":500,"y":1.217},{"x":529,"y":1.229},{"x":559,"y":1.206},{"x":618,"y":1.217},{"x":665,"y":1.234},{"x":676,"y":1.194},{"x":706,"y":1.211},{"x":735,"y":1.183},{"x":794,"y":1.16},{"x":806,"y":1.177},{"x":1088,"y":1.137},{"x":1500,"y":1.24},{"x":382,"y":1.2},{"x":294,"y":1.194},{"x":206,"y":1.194},{"x":147,"y":1.206},{"x":59,"y":1.217},{"x":118,"y":1.183},{"x":176,"y":1.166},{"x":235,"y":1.137},{"x":353,"y":1.206},{"x":412,"y":1.217},{"x":40,"y":1.2},{"x":70,"y":1.24},{"x":100,"y":1.19},{"x":130,"y":1.22},{"x":160,"y":1.15},{"x":190,"y":1.25},{"x":220,"y":1.18},{"x":250,"y":1.23},{"x":280,"y":1.2},{"x":310,"y":1.21},{"x":100,"y":1.09},{"x":160,"y":1.08},{"x":220,"y":1.12},{"x":260,"y":1.29}],
    "US_fit": [{"m":"linear","lt":"dash","x":20,"y":1.21},{"m":"linear","lt":"dash","x":1530,"y":1.205},
      {"m":"quadratic","lt":"dashdot","x":20,"y":1.2},{"m":"quadratic","lt":"dashdot","x":500,"y":1.21},{"m":"quadratic","lt":"dashdot","x":1000,"y":1.2},{"m":"quadratic","lt":"dashdot","x":1530,"y":1.185},
      {"m":"cubic","lt":"dashdot","x":20,"y":1.19},{"m":"cubic","lt":"dashdot","x":150,"y":1.21},{"m":"cubic","lt":"dashdot","x":350,"y":1.22},{"m":"cubic","lt":"dashdot","x":550,"y":1.205},{"m":"cubic","lt":"dashdot","x":800,"y":1.18},{"m":"cubic","lt":"dashdot","x":1000,"y":1.173},{"m":"cubic","lt":"dashdot","x":1200,"y":1.18},{"m":"cubic","lt":"dashdot","x":1400,"y":1.205},{"m":"cubic","lt":"dashdot","x":1530,"y":1.24}],
    "US_r2": [{"m":"linear","r":"−0.01"},{"m":"quadratic","r":"−0.02"},{"m":"cubic","r":"0"}],

    "WN": [{"x":0,"y":1.0},{"x":16,"y":1.048},{"x":39,"y":1.072},{"x":0,"y":1.149},{"x":39,"y":1.181},{"x":78,"y":1.2},{"x":39,"y":1.314},{"x":118,"y":1.291},{"x":157,"y":1.272},{"x":196,"y":1.253},{"x":235,"y":1.234},{"x":275,"y":1.349},{"x":314,"y":1.364},{"x":275,"y":1.333},{"x":353,"y":1.301},{"x":235,"y":1.177},{"x":314,"y":1.158},{"x":392,"y":1.139},{"x":471,"y":1.12},{"x":196,"y":1.139},{"x":118,"y":1.168},{"x":157,"y":1.196},{"x":275,"y":1.196},{"x":353,"y":1.206},{"x":431,"y":1.177},{"x":510,"y":1.196},{"x":588,"y":1.219},{"x":510,"y":1.244},{"x":627,"y":1.234},{"x":706,"y":1.139},{"x":784,"y":1.257},{"x":902,"y":1.291},{"x":1020,"y":1.23},{"x":1098,"y":1.234},{"x":1216,"y":1.206},{"x":1255,"y":1.196},{"x":1490,"y":1.158},{"x":1569,"y":1.196},{"x":1647,"y":1.244},{"x":1686,"y":1.225},{"x":1961,"y":1.219},{"x":2000,"y":1.225},{"x":78,"y":1.12},{"x":157,"y":1.11},{"x":235,"y":1.101},{"x":353,"y":1.101},{"x":392,"y":1.158},{"x":471,"y":1.168},{"x":314,"y":1.139},{"x":220,"y":1.158},{"x":298,"y":1.181},{"x":376,"y":1.187},{"x":455,"y":1.206},{"x":549,"y":1.177},{"x":627,"y":1.196},{"x":706,"y":1.187},{"x":431,"y":1.139},{"x":275,"y":1.12},{"x":157,"y":1.149},{"x":392,"y":1.11},{"x":486,"y":1.149},{"x":588,"y":1.168},{"x":100,"y":1.23},{"x":130,"y":1.16},{"x":180,"y":1.2},{"x":210,"y":1.19},{"x":250,"y":1.15},{"x":260,"y":1.21},{"x":290,"y":1.13},{"x":330,"y":1.17},{"x":340,"y":1.22},{"x":370,"y":1.15},{"x":410,"y":1.19},{"x":420,"y":1.12},{"x":450,"y":1.16},{"x":500,"y":1.16},{"x":530,"y":1.14},{"x":560,"y":1.2},{"x":600,"y":1.15},{"x":650,"y":1.17},{"x":120,"y":1.21},{"x":200,"y":1.27}],
    "WN_fit": [{"m":"linear","lt":"solid","x":0,"y":1.172},{"m":"linear","lt":"solid","x":2000,"y":1.215},
      {"m":"quadratic","lt":"dashdot","x":0,"y":1.165},{"m":"quadratic","lt":"dashdot","x":500,"y":1.185},{"m":"quadratic","lt":"dashdot","x":1000,"y":1.197},{"m":"quadratic","lt":"dashdot","x":1500,"y":1.205},{"m":"quadratic","lt":"dashdot","x":2000,"y":1.21},
      {"m":"cubic","lt":"dashdot","x":0,"y":1.155},{"m":"cubic","lt":"dashdot","x":200,"y":1.18},{"m":"cubic","lt":"dashdot","x":500,"y":1.19},{"m":"cubic","lt":"dashdot","x":1000,"y":1.195},{"m":"cubic","lt":"dashdot","x":1500,"y":1.2},{"m":"cubic","lt":"dashdot","x":2000,"y":1.215}],
    "WN_r2": [{"m":"linear","r":"0.01"},{"m":"quadratic","r":"0"},{"m":"cubic","r":"0"}],

    "WS": [{"x":68,"y":1.247},{"x":76,"y":1.237},{"x":62,"y":1.186},{"x":76,"y":1.171},{"x":91,"y":1.156},{"x":68,"y":1.136},{"x":85,"y":1.115},{"x":105,"y":1.105},{"x":76,"y":1.075},{"x":91,"y":1.064},{"x":120,"y":1.075},{"x":148,"y":1.105},{"x":177,"y":1.125},{"x":163,"y":1.156},{"x":177,"y":1.176},{"x":191,"y":1.191},{"x":177,"y":1.207},{"x":163,"y":1.227},{"x":191,"y":1.237},{"x":200,"y":1.268},{"x":206,"y":1.288},{"x":191,"y":1.298},{"x":206,"y":1.31},{"x":220,"y":1.303},{"x":177,"y":1.273},{"x":211,"y":1.257},{"x":234,"y":1.227},{"x":243,"y":1.207},{"x":234,"y":1.156},{"x":249,"y":1.138},{"x":263,"y":1.158},{"x":271,"y":1.161},{"x":286,"y":1.298},{"x":321,"y":1.293},{"x":384,"y":1.3},{"x":344,"y":1.28},{"x":234,"y":1.075},{"x":249,"y":1.095},{"x":220,"y":1.105},{"x":220,"y":1.125},{"x":206,"y":1.146},{"x":120,"y":1.136},{"x":134,"y":1.11},{"x":148,"y":1.138},{"x":97,"y":1.125},{"x":114,"y":1.156},{"x":134,"y":1.166},{"x":148,"y":1.186},{"x":349,"y":1.085},{"x":421,"y":1.125},{"x":522,"y":1.278},{"x":556,"y":1.276},{"x":565,"y":1.118},{"x":622,"y":1.25},{"x":665,"y":1.181},{"x":737,"y":1.245},{"x":752,"y":1.286},{"x":800,"y":1.188},{"x":68,"y":1.222},{"x":76,"y":1.205},{"x":62,"y":1.156},{"x":97,"y":1.191},{"x":120,"y":1.176},{"x":70,"y":1.2},{"x":80,"y":1.15},{"x":95,"y":1.19},{"x":110,"y":1.22},{"x":130,"y":1.2},{"x":150,"y":1.24},{"x":165,"y":1.18},{"x":180,"y":1.14},{"x":200,"y":1.22},{"x":210,"y":1.2},{"x":230,"y":1.18},{"x":240,"y":1.25}],
    "WS_fit": [{"m":"linear","lt":"solid","x":60,"y":1.15},{"m":"linear","lt":"solid","x":820,"y":1.278},
      {"m":"quadratic","lt":"solid","x":60,"y":1.135},{"m":"quadratic","lt":"solid","x":150,"y":1.17},{"m":"quadratic","lt":"solid","x":250,"y":1.205},{"m":"quadratic","lt":"solid","x":350,"y":1.228},{"m":"quadratic","lt":"solid","x":450,"y":1.24},{"m":"quadratic","lt":"solid","x":550,"y":1.243},{"m":"quadratic","lt":"solid","x":650,"y":1.235},{"m":"quadratic","lt":"solid","x":750,"y":1.215},{"m":"quadratic","lt":"solid","x":820,"y":1.2},
      {"m":"cubic","lt":"solid","x":60,"y":1.13},{"m":"cubic","lt":"solid","x":120,"y":1.165},{"m":"cubic","lt":"solid","x":200,"y":1.195},{"m":"cubic","lt":"solid","x":300,"y":1.222},{"m":"cubic","lt":"solid","x":400,"y":1.235},{"m":"cubic","lt":"solid","x":500,"y":1.24},{"m":"cubic","lt":"solid","x":600,"y":1.237},{"m":"cubic","lt":"solid","x":700,"y":1.23},{"m":"cubic","lt":"solid","x":820,"y":1.225}],
    "WS_r2": [{"m":"linear","r":"0.12"},{"m":"quadratic","r":"0.18"},{"m":"cubic","r":"0.18"}]
  },
  "vconcat": [
    {
      "title": {"text": "100% clusters", "orient": "left", "anchor": "middle", "offset": 4},
      "columns": 5,
      "spacing": {"row": 6, "column": 0},
      "concat": [
        {"spacing": 0, "vconcat": [
          {"width": 93, "height": 18, "view": {"fill": "#ebebeb", "stroke": null}, "data": {"values": [{"t": "Aerosol (non−saline)"}]}, "mark": {"type": "text", "style": "strip"}, "encoding": {"text": {"field": "t"}}},
          {"width": 93, "height": 106, "resolve": {"scale": {"x": "independent"}}, "layer": [
            {"encoding": {"x": {"field": "x", "type": "quantitative", "title": null, "scale": {"domain": [-6, 780], "nice": false}, "axis": {"values": [0, 200, 400, 600], "format": "d"}}, "y": {"field": "y", "type": "quantitative", "title": null, "scale": {"domain": [1.094, 1.36], "nice": false}, "axis": {"values": [1.1, 1.15, 1.2, 1.25, 1.3, 1.35], "format": ".2f"}}},
             "layer": [
              {"data": {"name": "AE"}, "mark": "circle"},
              {"data": {"name": "AE_fit"}, "mark": "line", "encoding": {"color": {"field": "m", "type": "nominal", "scale": {"domain": ["linear", "quadratic", "cubic"], "range": ["#666666", "#3a55a4", "#e41a1c"]}, "legend": null}, "strokeDash": {"field": "lt", "type": "nominal", "scale": {"domain": ["solid", "dash", "dashdot"], "range": [[1, 0], [5, 3], [6, 2, 1.5, 2]]}, "legend": null}}}
            ]},
            {"data": {"name": "AE_r2"}, "encoding": {"x": {"field": "m", "type": "nominal", "scale": {"type": "point", "domain": ["linear", "quadratic", "cubic"], "range": [34, 72], "padding": 0}, "axis": null}, "y": {"datum": 1.36, "type": "quantitative", "title": null, "scale": {"domain": [1.094, 1.36], "nice": false}, "axis": {"values": [1.1, 1.15, 1.2, 1.25, 1.3, 1.35], "format": ".2f"}}}, "layer": [
              {"transform": [{"filter": "datum.m == 'linear'"}], "mark": {"type": "text", "style": "r2", "align": "right", "dx": -3, "color": "#666666"}, "encoding": {"text": {"value": "Adj R2 :"}}},
              {"mark": {"type": "text", "style": "r2"}, "encoding": {"text": {"field": "r"}, "color": {"field": "m", "type": "nominal", "legend": null}}}
            ]}
          ]}
        ]},
        {"spacing": 0, "vconcat": [
          {"width": 93, "height": 18, "view": {"fill": "#ebebeb", "stroke": null}, "data": {"values": [{"t": "Animal corpus"}]}, "mark": {"type": "text", "style": "strip"}, "encoding": {"text": {"field": "t"}}},
          {"width": 93, "height": 106, "resolve": {"scale": {"x": "independent"}}, "layer": [
            {"encoding": {"x": {"field": "x", "type": "quantitative", "title": null, "scale": {"domain": [-9, 413], "nice": false}, "axis": {"values": [0, 100, 200, 300, 400], "format": "d"}}, "y": {"field": "y", "type": "quantitative", "title": null, "scale": {"domain": [0.97, 1.706], "nice": false}, "axis": {"values": [1.0, 1.2, 1.4, 1.6], "format": ".1f"}}},
             "layer": [
              {"data": {"name": "AC"}, "mark": "circle"},
              {"data": {"name": "AC_fit"}, "mark": "line", "encoding": {"color": {"field": "m", "type": "nominal", "scale": {"domain": ["linear", "quadratic", "cubic"], "range": ["#666666", "#3a55a4", "#e41a1c"]}, "legend": null}, "strokeDash": {"field": "lt", "type": "nominal", "scale": {"domain": ["solid", "dash", "dashdot"], "range": [[1, 0], [5, 3], [6, 2, 1.5, 2]]}, "legend": null}}}
            ]},
            {"data": {"name": "AC_r2"}, "encoding": {"x": {"field": "m", "type": "nominal", "scale": {"type": "point", "domain": ["linear", "quadratic", "cubic"], "range": [34, 76], "padding": 0}, "axis": null}, "y": {"datum": 1.706, "type": "quantitative", "title": null, "scale": {"domain": [0.97, 1.706], "nice": false}, "axis": {"values": [1.0, 1.2, 1.4, 1.6], "format": ".1f"}}}, "layer": [
              {"transform": [{"filter": "datum.m == 'linear'"}], "mark": {"type": "text", "style": "r2", "align": "right", "dx": -3, "color": "#666666"}, "encoding": {"text": {"value": "Adj R2 :"}}},
              {"mark": {"type": "text", "style": "r2"}, "encoding": {"text": {"field": "r"}, "color": {"field": "m", "type": "nominal", "legend": null}}}
            ]}
          ]}
        ]},
        {"spacing": 0, "vconcat": [
          {"width": 93, "height": 18, "view": {"fill": "#ebebeb", "stroke": null}, "data": {"values": [{"t": "Animal distal gut"}]}, "mark": {"type": "text", "style": "strip"}, "encoding": {"text": {"field": "t"}}},
          {"width": 93, "height": 106, "resolve": {"scale": {"x": "independent"}}, "layer": [
            {"encoding": {"x": {"field": "x", "type": "quantitative", "title": null, "scale": {"domain": [-17, 519], "nice": false}, "axis": {"values": [0, 100, 200, 300, 400, 500], "format": "d"}}, "y": {"field": "y", "type": "quantitative", "title": null, "scale": {"domain": [0.977, 1.541], "nice": false}, "axis": {"values": [1.0, 1.1, 1.2, 1.3, 1.4, 1.5], "format": ".1f"}}},
             "layer": [
              {"data": {"name": "AD"}, "mark": "circle"},
              {"data": {"name": "AD_fit"}, "mark": "line", "encoding": {"color": {"field": "m", "type": "nominal", "scale": {"domain": ["linear", "quadratic", "cubic"], "range": ["#666666", "#3a55a4", "#e41a1c"]}, "legend": null}, "strokeDash": {"field": "lt", "type": "nominal", "scale": {"domain": ["solid", "dash", "dashdot"], "range": [[1, 0], [5, 3], [6, 2, 1.5, 2]]}, "legend": null}}}
            ]},
            {"data": {"name": "AD_r2"}, "encoding": {"x": {"field": "m", "type": "nominal", "scale": {"type": "point", "domain": ["linear", "quadratic", "cubic"], "range": [34, 70], "padding": 0}, "axis": null}, "y": {"datum": 1.541, "type": "quantitative", "title": null, "scale": {"domain": [0.977, 1.541], "nice": false}, "axis": {"values": [1.0, 1.1, 1.2, 1.3, 1.4, 1.5], "format": ".1f"}}}, "layer": [
              {"transform": [{"filter": "datum.m == 'linear'"}], "mark": {"type": "text", "style": "r2", "align": "right", "dx": -3, "color": "#666666"}, "encoding": {"text": {"value": "Adj R2 :"}}},
              {"mark": {"type": "text", "style": "r2"}, "encoding": {"text": {"field": "r"}, "color": {"field": "m", "type": "nominal", "legend": null}}}
            ]}
          ]}
        ]},
        {"spacing": 0, "vconcat": [
          {"width": 93, "height": 18, "view": {"fill": "#ebebeb", "stroke": null}, "data": {"values": [{"t": "Animal proximal gut"}]}, "mark": {"type": "text", "style": "strip"}, "encoding": {"text": {"field": "t"}}},
          {"width": 93, "height": 106, "resolve": {"scale": {"x": "independent"}}, "layer": [
            {"encoding": {"x": {"field": "x", "type": "quantitative", "title": null, "scale": {"domain": [-4, 314], "nice": false}, "axis": {"values": [0, 100, 200, 300], "format": "d"}}, "y": {"field": "y", "type": "quantitative", "title": null, "scale": {"domain": [1.036, 1.545], "nice": false}, "axis": {"values": [1.1, 1.2, 1.3, 1.4, 1.5], "format": ".1f"}}},
             "layer": [
              {"data": {"name": "AP"}, "mark": "circle"},
              {"data": {"name": "AP_fit"}, "mark": "line", "encoding": {"color": {"field": "m", "type": "nominal", "scale": {"domain": ["linear", "quadratic", "cubic"], "range": ["#666666", "#3a55a4", "#e41a1c"]}, "legend": null}, "strokeDash": {"field": "lt", "type": "nominal", "scale": {"domain": ["solid", "dash", "dashdot"], "range": [[1, 0], [5, 3], [6, 2, 1.5, 2]]}, "legend": null}}}
            ]},
            {"data": {"name": "AP_r2"}, "encoding": {"x": {"field": "m", "type": "nominal", "scale": {"type": "point", "domain": ["linear", "quadratic", "cubic"], "range": [34, 80], "padding": 0}, "axis": null}, "y": {"datum": 1.545, "type": "quantitative", "title": null, "scale": {"domain": [1.036, 1.545], "nice": false}, "axis": {"values": [1.1, 1.2, 1.3, 1.4, 1.5], "format": ".1f"}}}, "layer": [
              {"transform": [{"filter": "datum.m == 'linear'"}], "mark": {"type": "text", "style": "r2", "align": "right", "dx": -3, "color": "#666666"}, "encoding": {"text": {"value": "Adj R2 :"}}},
              {"mark": {"type": "text", "style": "r2"}, "encoding": {"text": {"field": "r"}, "color": {"field": "m", "type": "nominal", "legend": null}}}
            ]}
          ]}
        ]},
        {"spacing": 0, "vconcat": [
          {"width": 93, "height": 18, "view": {"fill": "#ebebeb", "stroke": null}, "data": {"values": [{"t": "Animal secretion"}]}, "mark": {"type": "text", "style": "strip"}, "encoding": {"text": {"field": "t"}}},
          {"width": 93, "height": 106, "resolve": {"scale": {"x": "independent"}}, "layer": [
            {"encoding": {"x": {"field": "x", "type": "quantitative", "title": null, "scale": {"domain": [-19, 867], "nice": false}, "axis": {"values": [0, 200, 400, 600, 800], "format": "d"}}, "y": {"field": "y", "type": "quantitative", "title": null, "scale": {"domain": [1.052, 1.418], "nice": false}, "axis": {"values": [1.1, 1.2, 1.3, 1.4], "format": ".1f"}}},
             "layer": [
              {"data": {"name": "AS"}, "mark": "circle"},
              {"data": {"name": "AS_fit"}, "mark": "line", "encoding": {"color": {"field": "m", "type": "nominal", "scale": {"domain": ["linear", "quadratic", "cubic"], "range": ["#666666", "#3a55a4", "#e41a1c"]}, "legend": null}, "strokeDash": {"field": "lt", "type": "nominal", "scale": {"domain": ["solid", "dash", "dashdot"], "range": [[1, 0], [5, 3], [6, 2, 1.5, 2]]}, "legend": null}}}
            ]},
            {"data": {"name": "AS_r2"}, "encoding": {"x": {"field": "m", "type": "nominal", "scale": {"type": "point", "domain": ["linear", "quadratic", "cubic"], "range": [34, 68], "padding": 0}, "axis": null}, "y": {"datum": 1.418, "type": "quantitative", "title": null, "scale": {"domain": [1.052, 1.418], "nice": false}, "axis": {"values": [1.1, 1.2, 1.3, 1.4], "format": ".1f"}}}, "layer": [
              {"transform": [{"filter": "datum.m == 'linear'"}], "mark": {"type": "text", "style": "r2", "align": "right", "dx": -3, "color": "#666666"}, "encoding": {"text": {"value": "Adj R2 :"}}},
              {"mark": {"type": "text", "style": "r2"}, "encoding": {"text": {"field": "r"}, "color": {"field": "m", "type": "nominal", "legend": null}}}
            ]}
          ]}
        ]},
        {"spacing": 0, "vconcat": [
          {"width": 93, "height": 18, "view": {"fill": "#ebebeb", "stroke": null}, "data": {"values": [{"t": "Animal surface"}]}, "mark": {"type": "text", "style": "strip"}, "encoding": {"text": {"field": "t"}}},
          {"width": 93, "height": 106, "resolve": {"scale": {"x": "independent"}}, "layer": [
            {"encoding": {"x": {"field": "x", "type": "quantitative", "title": null, "scale": {"domain": [-31, 838], "nice": false}, "axis": {"values": [0, 200, 400, 600, 800], "format": "d"}}, "y": {"field": "y", "type": "quantitative", "title": null, "scale": {"domain": [1.056, 1.506], "nice": false}, "axis": {"values": [1.1, 1.2, 1.3, 1.4, 1.5], "format": ".1f"}}},
             "layer": [
              {"data": {"name": "AF"}, "mark": "circle"},
              {"data": {"name": "AF_fit"}, "mark": "line", "encoding": {"color": {"field": "m", "type": "nominal", "scale": {"domain": ["linear", "quadratic", "cubic"], "range": ["#666666", "#3a55a4", "#e41a1c"]}, "legend": null}, "strokeDash": {"field": "lt", "type": "nominal", "scale": {"domain": ["solid", "dash", "dashdot"], "range": [[1, 0], [5, 3], [6, 2, 1.5, 2]]}, "legend": null}}}
            ]},
            {"data": {"name": "AF_r2"}, "encoding": {"x": {"field": "m", "type": "nominal", "scale": {"type": "point", "domain": ["linear", "quadratic", "cubic"], "range": [34, 72], "padding": 0}, "axis": null}, "y": {"datum": 1.506, "type": "quantitative", "title": null, "scale": {"domain": [1.056, 1.506], "nice": false}, "axis": {"values": [1.1, 1.2, 1.3, 1.4, 1.5], "format": ".1f"}}}, "layer": [
              {"transform": [{"filter": "datum.m == 'linear'"}], "mark": {"type": "text", "style": "r2", "align": "right", "dx": -3, "color": "#666666"}, "encoding": {"text": {"value": "Adj R2 :"}}},
              {"mark": {"type": "text", "style": "r2"}, "encoding": {"text": {"field": "r"}, "color": {"field": "m", "type": "nominal", "legend": null}}}
            ]}
          ]}
        ]},
        {"spacing": 0, "vconcat": [
          {"width": 93, "height": 18, "view": {"fill": "#ebebeb", "stroke": null}, "data": {"values": [{"t": "Hypersaline (saline)"}]}, "mark": {"type": "text", "style": "strip"}, "encoding": {"text": {"field": "t"}}},
          {"width": 93, "height": 106, "resolve": {"scale": {"x": "independent"}}, "layer": [
            {"encoding": {"x": {"field": "x", "type": "quantitative", "title": null, "scale": {"domain": [4, 512], "nice": false}, "axis": {"values": [100, 200, 300, 400, 500], "format": "d"}}, "y": {"field": "y", "type": "quantitative", "title": null, "scale": {"domain": [1.108, 1.719], "nice": false}, "axis": {"values": [1.2, 1.3, 1.4, 1.5, 1.6, 1.7], "format": ".1f"}}},
             "layer": [
              {"data": {"name": "HS"}, "mark": "circle"},
              {"data": {"name": "HS_fit"}, "mark": "line", "encoding": {"color": {"field": "m", "type": "nominal", "scale": {"domain": ["linear", "quadratic", "cubic"], "range": ["#666666", "#3a55a4", "#e41a1c"]}, "legend": null}, "strokeDash": {"field": "lt", "type": "nominal", "scale": {"domain": ["solid", "dash", "dashdot"], "range": [[1, 0], [5, 3], [6, 2, 1.5, 2]]}, "legend": null}}}
            ]},
            {"data": {"name": "HS_r2"}, "encoding": {"x": {"field": "m", "type": "nominal", "scale": {"type": "point", "domain": ["linear", "quadratic", "cubic"], "range": [34, 72], "padding": 0}, "axis": null}, "y": {"datum": 1.719, "type": "quantitative", "title": null, "scale": {"domain": [1.108, 1.719], "nice": false}, "axis": {"values": [1.2, 1.3, 1.4, 1.5, 1.6, 1.7], "format": ".1f"}}}, "layer": [
              {"transform": [{"filter": "datum.m == 'linear'"}], "mark": {"type": "text", "style": "r2", "align": "right", "dx": -3, "color": "#666666"}, "encoding": {"text": {"value": "Adj R2 :"}}},
              {"mark": {"type": "text", "style": "r2"}, "encoding": {"text": {"field": "r"}, "color": {"field": "m", "type": "nominal", "legend": null}}}
            ]}
          ]}
        ]},
        {"spacing": 0, "vconcat": [
          {"width": 93, "height": 18, "view": {"fill": "#ebebeb", "stroke": null}, "data": {"values": [{"t": "Plant corpus"}]}, "mark": {"type": "text", "style": "strip"}, "encoding": {"text": {"field": "t"}}},
          {"width": 93, "height": 106, "resolve": {"scale": {"x": "independent"}}, "layer": [
            {"encoding": {"x": {"field": "x", "type": "quantitative", "title": null, "scale": {"domain": [-23, 547], "nice": false}, "axis": {"values": [0, 100, 200, 300, 400, 500], "format": "d"}}, "y": {"field": "y", "type": "quantitative", "title": null, "scale": {"domain": [0.947, 2.308], "nice": false}, "axis": {"values": [1.2, 1.6, 2.0], "format": ".1f"}}},
             "layer": [
              {"data": {"name": "PC"}, "mark": "circle"},
              {"data": {"name": "PC_fit"}, "mark": "line", "encoding": {"color": {"field": "m", "type": "nominal", "scale": {"domain": ["linear", "quadratic", "cubic"], "range": ["#666666", "#3a55a4", "#e41a1c"]}, "legend": null}, "strokeDash": {"field": "lt", "type": "nominal", "scale": {"domain": ["solid", "dash", "dashdot"], "range": [[1, 0], [5, 3], [6, 2, 1.5, 2]]}, "legend": null}}}
            ]},
            {"data": {"name": "PC_r2"}, "encoding": {"x": {"field": "m", "type": "nominal", "scale": {"type": "point", "domain": ["linear", "quadratic", "cubic"], "range": [34, 72], "padding": 0}, "axis": null}, "y": {"datum": 2.308, "type": "quantitative", "title": null, "scale": {"domain": [0.947, 2.308], "nice": false}, "axis": {"values": [1.2, 1.6, 2.0], "format": ".1f"}}}, "layer": [
              {"transform": [{"filter": "datum.m == 'linear'"}], "mark": {"type": "text", "style": "r2", "align": "right", "dx": -3, "color": "#666666"}, "encoding": {"text": {"value": "Adj R2 :"}}},
              {"mark": {"type": "text", "style": "r2"}, "encoding": {"text": {"field": "r"}, "color": {"field": "m", "type": "nominal", "legend": null}}}
            ]}
          ]}
        ]},
        {"spacing": 0, "vconcat": [
          {"width": 93, "height": 18, "view": {"fill": "#ebebeb", "stroke": null}, "data": {"values": [{"t": "Plant rhizosphere"}]}, "mark": {"type": "text", "style": "strip"}, "encoding": {"text": {"field": "t"}}},
          {"width": 93, "height": 106, "resolve": {"scale": {"x": "independent"}}, "layer": [
            {"encoding": {"x": {"field": "x", "type": "quantitative", "title": null, "scale": {"domain": [122, 1605], "nice": false}, "axis": {"values": [400, 800, 1200, 1600], "format": "d"}}, "y": {"field": "y", "type": "quantitative", "title": null, "scale": {"domain": [1.141, 1.358], "nice": false}, "axis": {"values": [1.15, 1.2, 1.25, 1.3, 1.35], "format": ".2f"}}},
             "layer": [
              {"data": {"name": "PR"}, "mark": "circle"},
              {"data": {"name": "PR_fit"}, "mark": "line", "encoding": {"color": {"field": "m", "type": "nominal", "scale": {"domain": ["linear", "quadratic", "cubic"], "range": ["#666666", "#3a55a4", "#e41a1c"]}, "legend": null}, "strokeDash": {"field": "lt", "type": "nominal", "scale": {"domain": ["solid", "dash", "dashdot"], "range": [[1, 0], [5, 3], [6, 2, 1.5, 2]]}, "legend": null}}}
            ]},
            {"data": {"name": "PR_r2"}, "encoding": {"x": {"field": "m", "type": "nominal", "scale": {"type": "point", "domain": ["linear", "quadratic", "cubic"], "range": [34, 72], "padding": 0}, "axis": null}, "y": {"datum": 1.358, "type": "quantitative", "title": null, "scale": {"domain": [1.141, 1.358], "nice": false}, "axis": {"values": [1.15, 1.2, 1.25, 1.3, 1.35], "format": ".2f"}}}, "layer": [
              {"transform": [{"filter": "datum.m == 'linear'"}], "mark": {"type": "text", "style": "r2", "align": "right", "dx": -3, "color": "#666666"}, "encoding": {"text": {"value": "Adj R2 :"}}},
              {"mark": {"type": "text", "style": "r2"}, "encoding": {"text": {"field": "r"}, "color": {"field": "m", "type": "nominal", "legend": null}}}
            ]}
          ]}
        ]},
        {"spacing": 0, "vconcat": [
          {"width": 93, "height": 18, "view": {"fill": "#ebebeb", "stroke": null}, "data": {"values": [{"t": "Plant surface"}]}, "mark": {"type": "text", "style": "strip"}, "encoding": {"text": {"field": "t"}}},
          {"width": 93, "height": 106, "resolve": {"scale": {"x": "independent"}}, "layer": [
            {"encoding": {"x": {"field": "x", "type": "quantitative", "title": null, "scale": {"domain": [25, 575], "nice": false}, "axis": {"values": [100, 200, 300, 400, 500], "format": "d"}}, "y": {"field": "y", "type": "quantitative", "title": null, "scale": {"domain": [1.005, 1.443], "nice": false}, "axis": {"values": [1.1, 1.2, 1.3, 1.4], "format": ".1f"}}},
             "layer": [
              {"data": {"name": "PS"}, "mark": "circle"},
              {"data": {"name": "PS_fit"}, "mark": "line", "encoding": {"color": {"field": "m", "type": "nominal", "scale": {"domain": ["linear", "quadratic", "cubic"], "range": ["#666666", "#3a55a4", "#e41a1c"]}, "legend": null}, "strokeDash": {"field": "lt", "type": "nominal", "scale": {"domain": ["solid", "dash", "dashdot"], "range": [[1, 0], [5, 3], [6, 2, 1.5, 2]]}, "legend": null}}}
            ]},
            {"data": {"name": "PS_r2"}, "encoding": {"x": {"field": "m", "type": "nominal", "scale": {"type": "point", "domain": ["linear", "quadratic", "cubic"], "range": [34, 72], "padding": 0}, "axis": null}, "y": {"datum": 1.443, "type": "quantitative", "title": null, "scale": {"domain": [1.005, 1.443], "nice": false}, "axis": {"values": [1.1, 1.2, 1.3, 1.4], "format": ".1f"}}}, "layer": [
              {"transform": [{"filter": "datum.m == 'linear'"}], "mark": {"type": "text", "style": "r2", "align": "right", "dx": -3, "color": "#666666"}, "encoding": {"text": {"value": "Adj R2 :"}}},
              {"mark": {"type": "text", "style": "r2"}, "encoding": {"text": {"field": "r"}, "color": {"field": "m", "type": "nominal", "legend": null}}}
            ]}
          ]}
        ]},
        {"spacing": 0, "vconcat": [
          {"width": 93, "height": 18, "view": {"fill": "#ebebeb", "stroke": null}, "data": {"values": [{"t": "Sediment (non−saline)"}]}, "mark": {"type": "text", "style": "strip"}, "encoding": {"text": {"field": "t"}}},
          {"width": 93, "height": 106, "resolve": {"scale": {"x": "independent"}}, "layer": [
            {"encoding": {"x": {"field": "x", "type": "quantitative", "title": null, "scale": {"domain": [-11, 1565], "nice": false}, "axis": {"values": [0, 500, 1000, 1500], "format": "d"}}, "y": {"field": "y", "type": "quantitative", "title": null, "scale": {"domain": [1.119, 1.364], "nice": false}, "axis": {"values": [1.15, 1.2, 1.25, 1.3, 1.35], "format": ".2f"}}},
             "layer": [
              {"data": {"name": "SN"}, "mark": "circle"},
              {"data": {"name": "SN_fit"}, "mark": "line", "encoding": {"color": {"field": "m", "type": "nominal", "scale": {"domain": ["linear", "quadratic", "cubic"], "range": ["#666666", "#3a55a4", "#e41a1c"]}, "legend": null}, "strokeDash": {"field": "lt", "type": "nominal", "scale": {"domain": ["solid", "dash", "dashdot"], "range": [[1, 0], [5, 3], [6, 2, 1.5, 2]]}, "legend": null}}}
            ]},
            {"data": {"name": "SN_r2"}, "encoding": {"x": {"field": "m", "type": "nominal", "scale": {"type": "point", "domain": ["linear", "quadratic", "cubic"], "range": [34, 72], "padding": 0}, "axis": null}, "y": {"datum": 1.364, "type": "quantitative", "title": null, "scale": {"domain": [1.119, 1.364], "nice": false}, "axis": {"values": [1.15, 1.2, 1.25, 1.3, 1.35], "format": ".2f"}}}, "layer": [
              {"transform": [{"filter": "datum.m == 'linear'"}], "mark": {"type": "text", "style": "r2", "align": "right", "dx": -3, "color": "#666666"}, "encoding": {"text": {"value": "Adj R2 :"}}},
              {"mark": {"type": "text", "style": "r2"}, "encoding": {"text": {"field": "r"}, "color": {"field": "m", "type": "nominal", "legend": null}}}
            ]}
          ]}
        ]},
        {"spacing": 0, "vconcat": [
          {"width": 93, "height": 18, "view": {"fill": "#ebebeb", "stroke": null}, "data": {"values": [{"t": "Sediment (saline)"}]}, "mark": {"type": "text", "style": "strip"}, "encoding": {"text": {"field": "t"}}},
          {"width": 93, "height": 106, "resolve": {"scale": {"x": "independent"}}, "layer": [
            {"encoding": {"x": {"field": "x", "type": "quantitative", "title": null, "scale": {"domain": [-42, 1402], "nice": false}, "axis": {"values": [0, 500, 1000], "format": "d"}}, "y": {"field": "y", "type": "quantitative", "title": null, "scale": {"domain": [1.05, 1.458], "nice": false}, "axis": {"values": [1.05, 1.15, 1.25, 1.35, 1.45], "format": ".2f"}}},
             "layer": [
              {"data": {"name": "SS"}, "mark": "circle"},
              {"data": {"name": "SS_fit"}, "mark": "line", "encoding": {"color": {"field": "m", "type": "nominal", "scale": {"domain": ["linear", "quadratic", "cubic"], "range": ["#666666", "#3a55a4", "#e41a1c"]}, "legend": null}, "strokeDash": {"field": "lt", "type": "nominal", "scale": {"domain": ["solid", "dash", "dashdot"], "range": [[1, 0], [5, 3], [6, 2, 1.5, 2]]}, "legend": null}}}
            ]},
            {"data": {"name": "SS_r2"}, "encoding": {"x": {"field": "m", "type": "nominal", "scale": {"type": "point", "domain": ["linear", "quadratic", "cubic"], "range": [34, 72], "padding": 0}, "axis": null}, "y": {"datum": 1.458, "type": "quantitative", "title": null, "scale": {"domain": [1.05, 1.458], "nice": false}, "axis": {"values": [1.05, 1.15, 1.25, 1.35, 1.45], "format": ".2f"}}}, "layer": [
              {"transform": [{"filter": "datum.m == 'linear'"}], "mark": {"type": "text", "style": "r2", "align": "right", "dx": -3, "color": "#666666"}, "encoding": {"text": {"value": "Adj R2 :"}}},
              {"mark": {"type": "text", "style": "r2"}, "encoding": {"text": {"field": "r"}, "color": {"field": "m", "type": "nominal", "legend": null}}}
            ]}
          ]}
        ]},
        {"spacing": 0, "vconcat": [
          {"width": 93, "height": 18, "view": {"fill": "#ebebeb", "stroke": null}, "data": {"values": [{"t": "Soil (non−saline)"}]}, "mark": {"type": "text", "style": "strip"}, "encoding": {"text": {"field": "t"}}},
          {"width": 93, "height": 106, "resolve": {"scale": {"x": "independent"}}, "layer": [
            {"encoding": {"x": {"field": "x", "type": "quantitative", "title": null, "scale": {"domain": [-18, 1660], "nice": false}, "axis": {"values": [0, 500, 1000, 1500], "format": "d"}}, "y": {"field": "y", "type": "quantitative", "title": null, "scale": {"domain": [1.089, 1.61], "nice": false}, "axis": {"values": [1.1, 1.2, 1.3, 1.4, 1.5, 1.6], "format": ".1f"}}},
             "layer": [
              {"data": {"name": "SO"}, "mark": "circle"},
              {"data": {"name": "SO_fit"}, "mark": "line", "encoding": {"color": {"field": "m", "type": "nominal", "scale": {"domain": ["linear", "quadratic", "cubic"], "range": ["#666666", "#3a55a4", "#e41a1c"]}, "legend": null}, "strokeDash": {"field": "lt", "type": "nominal", "scale": {"domain": ["solid", "dash", "dashdot"], "range": [[1, 0], [5, 3], [6, 2, 1.5, 2]]}, "legend": null}}}
            ]},
            {"data": {"name": "SO_r2"}, "encoding": {"x": {"field": "m", "type": "nominal", "scale": {"type": "point", "domain": ["linear", "quadratic", "cubic"], "range": [34, 72], "padding": 0}, "axis": null}, "y": {"datum": 1.61, "type": "quantitative", "title": null, "scale": {"domain": [1.089, 1.61], "nice": false}, "axis": {"values": [1.1, 1.2, 1.3, 1.4, 1.5, 1.6], "format": ".1f"}}}, "layer": [
              {"transform": [{"filter": "datum.m == 'linear'"}], "mark": {"type": "text", "style": "r2", "align": "right", "dx": -3, "color": "#666666"}, "encoding": {"text": {"value": "Adj R2 :"}}},
              {"mark": {"type": "text", "style": "r2"}, "encoding": {"text": {"field": "r"}, "color": {"field": "m", "type": "nominal", "legend": null}}}
            ]}
          ]}
        ]},
        {"spacing": 0, "vconcat": [
          {"width": 93, "height": 18, "view": {"fill": "#ebebeb", "stroke": null}, "data": {"values": [{"t": "Surface (non−saline)"}]}, "mark": {"type": "text", "style": "strip"}, "encoding": {"text": {"field": "t"}}},
          {"width": 93, "height": 106, "resolve": {"scale": {"x": "independent"}}, "layer": [
            {"encoding": {"x": {"field": "x", "type": "quantitative", "title": null, "scale": {"domain": [-55, 1155], "nice": false}, "axis": {"values": [0, 300, 600, 900], "format": "d"}}, "y": {"field": "y", "type": "quantitative", "title": null, "scale": {"domain": [1.025, 1.82], "nice": false}, "axis": {"values": [1.2, 1.4, 1.6, 1.8], "format": ".1f"}}},
             "layer": [
              {"data": {"name": "UN"}, "mark": "circle"},
              {"data": {"name": "UN_fit"}, "mark": "line", "encoding": {"color": {"field": "m", "type": "nominal", "scale": {"domain": ["linear", "quadratic", "cubic"], "range": ["#666666", "#3a55a4", "#e41a1c"]}, "legend": null}, "strokeDash": {"field": "lt", "type": "nominal", "scale": {"domain": ["solid", "dash", "dashdot"], "range": [[1, 0], [5, 3], [6, 2, 1.5, 2]]}, "legend": null}}}
            ]},
            {"data": {"name": "UN_r2"}, "encoding": {"x": {"field": "m", "type": "nominal", "scale": {"type": "point", "domain": ["linear", "quadratic", "cubic"], "range": [34, 72], "padding": 0}, "axis": null}, "y": {"datum": 1.82, "type": "quantitative", "title": null, "scale": {"domain": [1.025, 1.82], "nice": false}, "axis": {"values": [1.2, 1.4, 1.6, 1.8], "format": ".1f"}}}, "layer": [
              {"transform": [{"filter": "datum.m == 'linear'"}], "mark": {"type": "text", "style": "r2", "align": "right", "dx": -3, "color": "#666666"}, "encoding": {"text": {"value": "Adj R2 :"}}},
              {"mark": {"type": "text", "style": "r2"}, "encoding": {"text": {"field": "r"}, "color": {"field": "m", "type": "nominal", "legend": null}}}
            ]}
          ]}
        ]},
        {"spacing": 0, "vconcat": [
          {"width": 93, "height": 18, "view": {"fill": "#ebebeb", "stroke": null}, "data": {"values": [{"t": "Surface (saline)"}]}, "mark": {"type": "text", "style": "strip"}, "encoding": {"text": {"field": "t"}}},
          {"width": 93, "height": 106, "resolve": {"scale": {"x": "independent"}}, "layer": [
            {"encoding": {"x": {"field": "x", "type": "quantitative", "title": null, "scale": {"domain": [-40, 1610], "nice": false}, "axis": {"values": [0, 500, 1000, 1500], "format": "d"}}, "y": {"field": "y", "type": "quantitative", "title": null, "scale": {"domain": [1.031, 1.397], "nice": false}, "axis": {"values": [1.1, 1.2, 1.3], "format": ".1f"}}},
             "layer": [
              {"data": {"name": "US"}, "mark": "circle"},
              {"data": {"name": "US_fit"}, "mark": "line", "encoding": {"color": {"field": "m", "type": "nominal", "scale": {"domain": ["linear", "quadratic", "cubic"], "range": ["#666666", "#3a55a4", "#e41a1c"]}, "legend": null}, "strokeDash": {"field": "lt", "type": "nominal", "scale": {"domain": ["solid", "dash", "dashdot"], "range": [[1, 0], [5, 3], [6, 2, 1.5, 2]]}, "legend": null}}}
            ]},
            {"data": {"name": "US_r2"}, "encoding": {"x": {"field": "m", "type": "nominal", "scale": {"type": "point", "domain": ["linear", "quadratic", "cubic"], "range": [34, 80], "padding": 0}, "axis": null}, "y": {"datum": 1.397, "type": "quantitative", "title": null, "scale": {"domain": [1.031, 1.397], "nice": false}, "axis": {"values": [1.1, 1.2, 1.3], "format": ".1f"}}}, "layer": [
              {"transform": [{"filter": "datum.m == 'linear'"}], "mark": {"type": "text", "style": "r2", "align": "right", "dx": -3, "color": "#666666"}, "encoding": {"text": {"value": "Adj R2 :"}}},
              {"mark": {"type": "text", "style": "r2"}, "encoding": {"text": {"field": "r"}, "color": {"field": "m", "type": "nominal", "legend": null}}}
            ]}
          ]}
        ]},
        {"spacing": 0, "vconcat": [
          {"width": 93, "height": 18, "view": {"fill": "#ebebeb", "stroke": null}, "data": {"values": [{"t": "Water (non−saline)"}]}, "mark": {"type": "text", "style": "strip"}, "encoding": {"text": {"field": "t"}}},
          {"width": 93, "height": 106, "resolve": {"scale": {"x": "independent"}}, "layer": [
            {"encoding": {"x": {"field": "x", "type": "quantitative", "title": null, "scale": {"domain": [-94, 2099], "nice": false}, "axis": {"values": [0, 500, 1000, 1500, 2000], "format": "d"}}, "y": {"field": "y", "type": "quantitative", "title": null, "scale": {"domain": [0.971, 1.577], "nice": false}, "axis": {"values": [1.0, 1.2, 1.4], "format": ".1f"}}},
             "layer": [
              {"data": {"name": "WN"}, "mark": "circle"},
              {"data": {"name": "WN_fit"}, "mark": "line", "encoding": {"color": {"field": "m", "type": "nominal", "scale": {"domain": ["linear", "quadratic", "cubic"], "range": ["#666666", "#3a55a4", "#e41a1c"]}, "legend": null}, "strokeDash": {"field": "lt", "type": "nominal", "scale": {"domain": ["solid", "dash", "dashdot"], "range": [[1, 0], [5, 3], [6, 2, 1.5, 2]]}, "legend": null}}}
            ]},
            {"data": {"name": "WN_r2"}, "encoding": {"x": {"field": "m", "type": "nominal", "scale": {"type": "point", "domain": ["linear", "quadratic", "cubic"], "range": [34, 68], "padding": 0}, "axis": null}, "y": {"datum": 1.577, "type": "quantitative", "title": null, "scale": {"domain": [0.971, 1.577], "nice": false}, "axis": {"values": [1.0, 1.2, 1.4], "format": ".1f"}}}, "layer": [
              {"transform": [{"filter": "datum.m == 'linear'"}], "mark": {"type": "text", "style": "r2", "align": "right", "dx": -3, "color": "#666666"}, "encoding": {"text": {"value": "Adj R2 :"}}},
              {"mark": {"type": "text", "style": "r2"}, "encoding": {"text": {"field": "r"}, "color": {"field": "m", "type": "nominal", "legend": null}}}
            ]}
          ]}
        ]},
        {"spacing": 0, "vconcat": [
          {"width": 93, "height": 18, "view": {"fill": "#ebebeb", "stroke": null}, "data": {"values": [{"t": "Water (saline)"}]}, "mark": {"type": "text", "style": "strip"}, "encoding": {"text": {"field": "t"}}},
          {"width": 93, "height": 106, "resolve": {"scale": {"x": "independent"}}, "layer": [
            {"encoding": {"x": {"field": "x", "type": "quantitative", "title": null, "scale": {"domain": [39, 840], "nice": false}, "axis": {"values": [200, 400, 600, 800], "format": "d"}}, "y": {"field": "y", "type": "quantitative", "title": null, "scale": {"domain": [1.046, 1.369], "nice": false}, "axis": {"values": [1.1, 1.2, 1.3], "format": ".1f"}}},
             "layer": [
              {"data": {"name": "WS"}, "mark": "circle"},
              {"data": {"name": "WS_fit"}, "mark": "line", "encoding": {"color": {"field": "m", "type": "nominal", "scale": {"domain": ["linear", "quadratic", "cubic"], "range": ["#666666", "#3a55a4", "#e41a1c"]}, "legend": null}, "strokeDash": {"field": "lt", "type": "nominal", "scale": {"domain": ["solid", "dash", "dashdot"], "range": [[1, 0], [5, 3], [6, 2, 1.5, 2]]}, "legend": null}}}
            ]},
            {"data": {"name": "WS_r2"}, "encoding": {"x": {"field": "m", "type": "nominal", "scale": {"type": "point", "domain": ["linear", "quadratic", "cubic"], "range": [34, 72], "padding": 0}, "axis": null}, "y": {"datum": 1.369, "type": "quantitative", "title": null, "scale": {"domain": [1.046, 1.369], "nice": false}, "axis": {"values": [1.1, 1.2, 1.3], "format": ".1f"}}}, "layer": [
              {"transform": [{"filter": "datum.m == 'linear'"}], "mark": {"type": "text", "style": "r2", "align": "right", "dx": -3, "color": "#666666"}, "encoding": {"text": {"value": "Adj R2 :"}}},
              {"mark": {"type": "text", "style": "r2"}, "encoding": {"text": {"field": "r"}, "color": {"field": "m", "type": "nominal", "legend": null}}}
            ]}
          ]}
        ]}
      ]
    }
  ],
  "config": {
    "font": "Liberation Sans",
    "view": {"stroke": null},
    "axis": {"gridColor": "#ebebeb", "gridWidth": 0.7, "domainColor": "#1a1a1a", "domainWidth": 0.9, "tickColor": "#1a1a1a", "tickSize": 2.5, "tickWidth": 0.8, "labelFontSize": 7, "labelColor": "#4d4d4d", "labelPadding": 1.5, "labelFont": "Liberation Sans", "labelOverlap": false},
    "axisY": {"minExtent": 18, "maxExtent": 18},
    "axisX": {"minExtent": 11, "maxExtent": 11},
    "circle": {"size": 7, "color": "#000000", "opacity": 1},
    "line": {"strokeWidth": 1.4, "interpolate": "monotone"},
    "style": {
      "strip": {"fontSize": 9.5, "fontWeight": "bold", "color": "#1a1a1a", "clip": true},
      "r2": {"align": "left", "baseline": "top", "dy": 3, "fontSize": 7.5, "fontWeight": "bold"}
    },
    "title": {"font": "Liberation Sans", "fontSize": 11, "fontWeight": "bold", "color": "#000000"}
  }
}
